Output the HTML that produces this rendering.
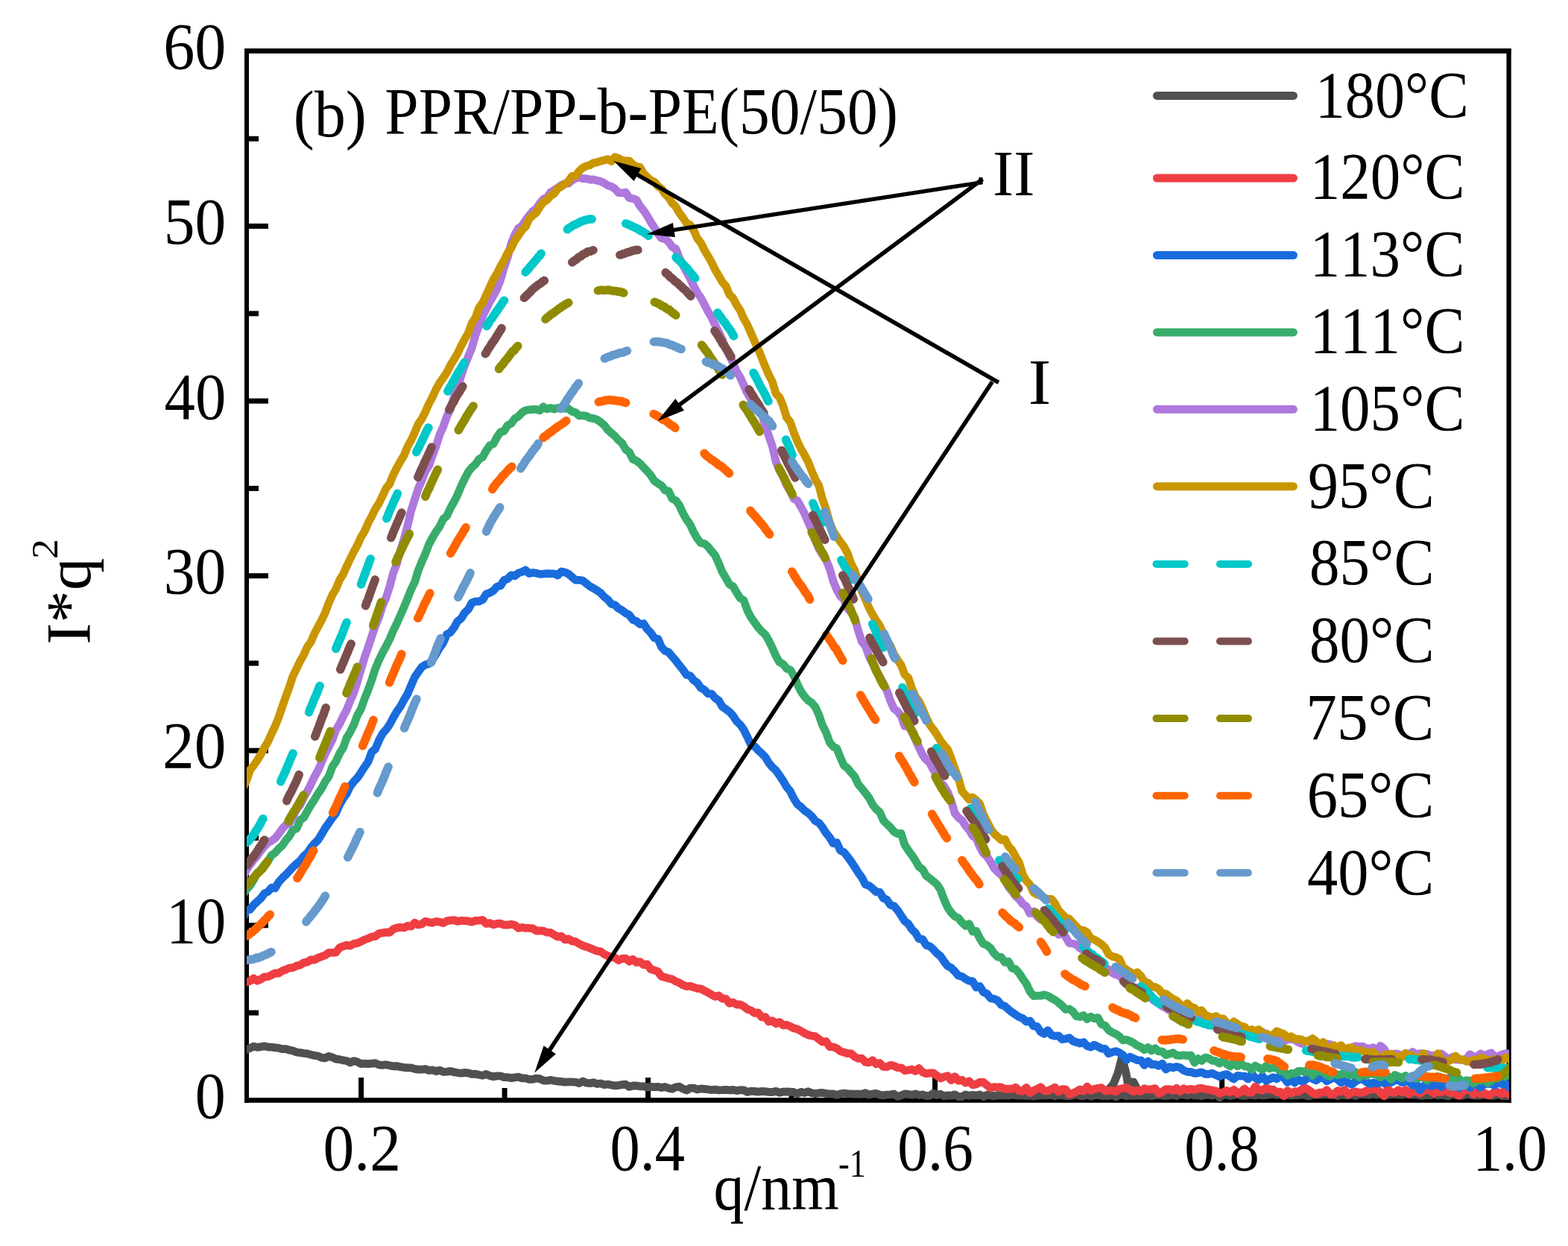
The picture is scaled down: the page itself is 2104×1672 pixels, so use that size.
<!DOCTYPE html><html><head><meta charset="utf-8"><title>SAXS I*q^2 vs q</title>
<style>html,body{margin:0;padding:0;background:#fff;}svg{display:block;}text{font-family:'Liberation Serif','Times New Roman',serif;fill:#000;font-kerning:none;font-feature-settings:"kern" 0;}</style></head><body>
<svg xmlns="http://www.w3.org/2000/svg" width="2104" height="1672" viewBox="0 0 2104 1672">
<rect width="2104" height="1672" fill="#fff"/>
<g stroke="#000" fill="none">
<line x1="331" y1="65" x2="331" y2="1479.8" stroke-width="6"/>
<line x1="2024.6" y1="65" x2="2024.6" y2="1479.8" stroke-width="6.3"/>
<line x1="328" y1="68.45" x2="2027.7" y2="68.45" stroke-width="6.7"/>
<line x1="328" y1="1476.4" x2="2027.7" y2="1476.4" stroke-width="6.7"/>
<line x1="333" y1="1241.8" x2="360" y2="1241.8" stroke-width="7"/>
<line x1="333" y1="1007.2" x2="360" y2="1007.2" stroke-width="7"/>
<line x1="333" y1="772.7" x2="360" y2="772.7" stroke-width="7"/>
<line x1="333" y1="538.1" x2="360" y2="538.1" stroke-width="7"/>
<line x1="333" y1="303.5" x2="360" y2="303.5" stroke-width="7"/>
<line x1="333" y1="1359.1" x2="347" y2="1359.1" stroke-width="7"/>
<line x1="333" y1="1124.5" x2="347" y2="1124.5" stroke-width="7"/>
<line x1="333" y1="890.0" x2="347" y2="890.0" stroke-width="7"/>
<line x1="333" y1="655.4" x2="347" y2="655.4" stroke-width="7"/>
<line x1="333" y1="420.8" x2="347" y2="420.8" stroke-width="7"/>
<line x1="333" y1="186.2" x2="347" y2="186.2" stroke-width="7"/>
<line x1="484.6" y1="1474" x2="484.6" y2="1446" stroke-width="7"/>
<line x1="869.6" y1="1474" x2="869.6" y2="1446" stroke-width="7"/>
<line x1="1254.6" y1="1474" x2="1254.6" y2="1446" stroke-width="7"/>
<line x1="1639.7" y1="1474" x2="1639.7" y2="1446" stroke-width="7"/>
<line x1="677.1" y1="1474" x2="677.1" y2="1460" stroke-width="7"/>
<line x1="1062.1" y1="1474" x2="1062.1" y2="1460" stroke-width="7"/>
<line x1="1447.2" y1="1474" x2="1447.2" y2="1460" stroke-width="7"/>
<line x1="1832.2" y1="1474" x2="1832.2" y2="1460" stroke-width="7"/>
</g>
<defs><clipPath id="pc"><rect x="331" y="60" width="1694" height="1425"/></clipPath></defs>
<g clip-path="url(#pc)">
<path d="M326.0 1409.6L330.8 1408.3L335.6 1406.5L340.4 1404.1L345.2 1405.4L350.0 1404.7L354.8 1403.8L359.6 1405.0L364.4 1405.2L369.2 1405.8L374.0 1406.4L378.8 1407.7L383.6 1407.6L388.4 1409.2L393.2 1410.0L398.0 1412.0L402.8 1412.6L407.6 1413.3L412.4 1413.8L417.2 1415.3L422.0 1416.4L426.8 1417.0L431.6 1419.3L436.4 1419.8L441.2 1417.3L446.0 1418.8L450.8 1421.1L455.6 1421.6L460.4 1422.9L465.2 1423.5L470.0 1425.9L474.8 1423.6L479.6 1424.9L484.4 1427.7L489.2 1427.1L494.0 1427.7L498.8 1427.2L503.6 1426.7L508.4 1428.9L513.2 1429.4L518.0 1428.7L522.8 1429.7L527.6 1430.8L532.4 1430.5L537.2 1431.7L542.0 1432.4L546.8 1432.9L551.6 1432.9L556.4 1434.4L561.2 1435.1L566.0 1435.1L570.8 1434.5L575.6 1436.4L580.4 1435.8L585.2 1437.5L590.0 1436.2L594.8 1438.4L599.6 1438.1L604.4 1437.4L609.2 1438.7L614.0 1439.5L618.8 1440.1L623.6 1439.4L628.4 1439.8L633.2 1441.4L638.0 1441.2L642.8 1442.3L647.6 1443.2L652.4 1441.4L657.2 1443.6L662.0 1444.8L666.8 1443.9L671.6 1443.8L676.4 1445.6L681.2 1445.6L686.0 1446.6L690.8 1445.9L695.6 1445.2L700.4 1446.8L705.2 1446.9L710.0 1448.4L714.8 1448.3L719.6 1447.0L724.4 1447.7L729.2 1450.0L734.0 1450.2L738.8 1449.3L743.6 1450.3L748.4 1451.0L753.2 1451.4L758.0 1452.1L762.8 1451.9L767.6 1451.9L772.4 1452.1L777.2 1453.6L782.0 1450.9L786.8 1453.2L791.6 1453.6L796.4 1452.6L801.2 1454.5L806.0 1453.9L810.8 1455.6L815.6 1455.0L820.4 1456.0L825.2 1456.8L830.0 1456.4L834.8 1455.5L839.6 1455.2L844.4 1458.4L849.2 1457.0L854.0 1456.8L858.8 1457.8L863.6 1457.7L868.4 1458.9L873.2 1458.5L878.0 1458.7L882.8 1458.3L887.6 1459.6L892.4 1458.5L897.2 1460.3L902.0 1461.3L906.8 1458.8L911.6 1458.1L916.4 1461.1L921.2 1463.1L926.0 1460.1L930.8 1460.1L935.6 1462.0L940.4 1460.9L945.2 1461.4L950.0 1461.8L954.8 1462.7L959.6 1462.1L964.4 1462.9L969.2 1462.7L974.0 1462.3L978.8 1462.9L983.6 1462.5L988.4 1463.6L993.2 1462.7L998.0 1462.9L1002.8 1465.4L1007.6 1464.2L1012.4 1464.4L1017.2 1465.1L1022.0 1464.4L1026.8 1464.7L1031.6 1465.4L1036.4 1465.5L1041.2 1464.3L1046.0 1466.3L1050.8 1465.1L1055.6 1464.8L1060.4 1465.1L1065.2 1465.7L1070.0 1467.7L1074.8 1465.3L1079.6 1466.6L1084.4 1464.7L1089.2 1466.7L1094.0 1467.6L1098.8 1466.7L1103.6 1466.5L1108.4 1467.4L1113.2 1467.9L1118.0 1468.0L1122.8 1469.3L1127.6 1467.8L1132.4 1467.2L1137.2 1467.7L1142.0 1467.8L1146.8 1468.1L1151.6 1468.0L1156.4 1468.3L1161.2 1466.7L1166.0 1469.1L1170.8 1467.9L1175.6 1467.4L1180.4 1469.1L1185.2 1469.8L1190.0 1469.2L1194.8 1468.9L1199.6 1468.0L1204.4 1471.5L1209.2 1469.8L1214.0 1468.0L1218.8 1468.4L1223.6 1469.3L1228.4 1467.8L1233.2 1469.5L1238.0 1468.9L1242.8 1470.5L1247.6 1470.3L1252.4 1467.1L1257.2 1469.6L1262.0 1468.2L1266.8 1470.7L1271.6 1469.9L1276.4 1470.2L1281.2 1468.8L1286.0 1471.5L1290.8 1471.7L1295.6 1468.9L1300.4 1470.3L1305.2 1469.4L1310.0 1470.0L1314.8 1468.9L1319.6 1471.7L1324.4 1469.2L1329.2 1469.8L1334.0 1470.6L1338.8 1469.6L1343.6 1470.0L1348.4 1469.7L1353.2 1470.1L1358.0 1469.2L1362.8 1469.8L1367.6 1470.1L1372.4 1470.0L1377.2 1470.3L1382.0 1470.0L1386.8 1471.0L1391.6 1470.0L1396.4 1470.2L1401.2 1469.7L1406.0 1469.9L1410.8 1469.2L1415.6 1470.8L1420.4 1469.3L1425.2 1469.7L1430.0 1470.7L1434.8 1470.7L1439.6 1470.0L1444.4 1468.5L1449.2 1470.7L1454.0 1470.6L1458.8 1469.1L1463.6 1471.0L1468.4 1469.7L1473.2 1469.3L1478.0 1470.4L1482.8 1470.1L1487.6 1470.5L1492.4 1468.8L1497.2 1471.9L1502.0 1469.7L1506.8 1468.9L1511.6 1470.8L1516.4 1469.9L1521.2 1470.5L1526.0 1469.9L1530.8 1470.1L1535.6 1470.4L1540.4 1469.5L1545.2 1470.7L1550.0 1469.7L1554.8 1469.3L1559.6 1470.1L1564.4 1470.5L1569.2 1469.8L1574.0 1469.2L1578.8 1470.6L1583.6 1468.4L1588.4 1469.0L1593.2 1470.0L1598.0 1468.7L1602.8 1469.9L1607.6 1469.8L1612.4 1470.7L1617.2 1469.0L1622.0 1469.3L1626.8 1470.1L1631.6 1467.6L1636.4 1472.6L1641.2 1469.1L1646.0 1469.1L1650.8 1470.5L1655.6 1469.7L1660.4 1468.1L1665.2 1470.2L1670.0 1470.4L1674.8 1469.2L1679.6 1469.3L1684.4 1470.0L1689.2 1468.7L1694.0 1469.9L1698.8 1469.7L1703.6 1468.9L1708.4 1468.2L1713.2 1469.3L1718.0 1468.7L1722.8 1470.3L1727.6 1469.5L1732.4 1470.1L1737.2 1469.5L1742.0 1469.6L1746.8 1468.7L1751.6 1469.9L1756.4 1470.9L1761.2 1469.0L1766.0 1468.8L1770.8 1469.2L1775.6 1468.8L1780.4 1468.6L1785.2 1469.4L1790.0 1469.0L1794.8 1470.5L1799.6 1469.2L1804.4 1469.5L1809.2 1470.1L1814.0 1468.9L1818.8 1470.5L1823.6 1468.6L1828.4 1468.5L1833.2 1468.9L1838.0 1469.1L1842.8 1467.9L1847.6 1469.2L1852.4 1467.7L1857.2 1470.5L1862.0 1469.1L1866.8 1468.6L1871.6 1468.4L1876.4 1468.9L1881.2 1469.0L1886.0 1468.3L1890.8 1468.4L1895.6 1469.1L1900.4 1468.8L1905.2 1470.1L1910.0 1470.3L1914.8 1469.3L1919.6 1469.8L1924.4 1468.2L1929.2 1470.0L1934.0 1469.4L1938.8 1469.9L1943.6 1470.9L1948.4 1467.4L1953.2 1469.7L1958.0 1468.5L1962.8 1470.1L1967.6 1468.4L1972.4 1469.2L1977.2 1469.8L1982.0 1470.2L1986.8 1469.8L1991.6 1469.1L1996.4 1469.3L2001.2 1470.6L2006.0 1469.9L2010.8 1468.4L2015.6 1470.7L2020.4 1470.4L2025.2 1470.9L2030.0 1469.8" stroke="#505050" stroke-width="10.8" fill="none" stroke-linejoin="round"/>
<path d="M1484 1466 L1494 1455 L1500 1440 L1505.5 1418.5 L1511 1440 L1513 1452 L1521 1452 L1527 1464" stroke="#505050" stroke-width="10.8" fill="none" stroke-linejoin="round"/>
<path d="M326.0 1319.7L330.8 1317.6L335.6 1316.4L340.4 1312.8L345.2 1316.2L350.0 1314.0L354.8 1310.9L359.6 1310.6L364.4 1308.4L369.2 1305.9L374.0 1306.0L378.8 1302.8L383.6 1301.1L388.4 1298.9L393.2 1298.5L398.0 1296.1L402.8 1295.0L407.6 1291.9L412.4 1290.9L417.2 1287.9L422.0 1288.0L426.8 1285.3L431.6 1283.6L436.4 1281.8L441.2 1278.3L446.0 1278.4L450.8 1278.0L455.6 1271.8L460.4 1269.8L465.2 1268.2L470.0 1269.1L474.8 1266.4L479.6 1265.6L484.4 1263.4L489.2 1261.0L494.0 1259.3L498.8 1257.1L503.6 1256.6L508.4 1252.6L513.2 1251.8L518.0 1251.0L522.8 1251.4L527.6 1246.9L532.4 1245.1L537.2 1244.4L542.0 1245.0L546.8 1242.4L551.6 1243.2L556.4 1238.3L561.2 1241.0L566.0 1240.0L570.8 1236.3L575.6 1237.6L580.4 1238.3L585.2 1236.5L590.0 1237.2L594.8 1238.7L599.6 1235.9L604.4 1235.2L609.2 1234.6L614.0 1236.4L618.8 1235.5L623.6 1235.7L628.4 1236.0L633.2 1237.2L638.0 1235.4L642.8 1235.2L647.6 1234.5L652.4 1239.5L657.2 1238.6L662.0 1240.9L666.8 1239.5L671.6 1239.1L676.4 1241.2L681.2 1241.1L686.0 1240.2L690.8 1241.4L695.6 1245.5L700.4 1244.5L705.2 1245.4L710.0 1245.4L714.8 1245.9L719.6 1249.0L724.4 1248.8L729.2 1249.1L734.0 1251.2L738.8 1251.5L743.6 1254.4L748.4 1257.2L753.2 1256.2L758.0 1260.9L762.8 1259.9L767.6 1262.9L772.4 1263.6L777.2 1266.5L782.0 1269.0L786.8 1270.5L791.6 1272.2L796.4 1274.3L801.2 1276.1L806.0 1276.9L810.8 1280.3L815.6 1282.7L820.4 1284.6L825.2 1285.2L830.0 1288.6L834.8 1286.4L839.6 1286.1L844.4 1290.2L849.2 1287.2L854.0 1291.5L858.8 1290.6L863.6 1294.6L868.4 1293.8L873.2 1300.6L878.0 1302.0L882.8 1303.7L887.6 1310.2L892.4 1311.5L897.2 1312.9L902.0 1314.0L906.8 1317.0L911.6 1318.8L916.4 1321.8L921.2 1323.6L926.0 1323.1L930.8 1324.9L935.6 1326.4L940.4 1326.8L945.2 1329.5L950.0 1331.9L954.8 1334.7L959.6 1337.4L964.4 1336.0L969.2 1340.0L974.0 1340.4L978.8 1346.2L983.6 1345.0L988.4 1348.0L993.2 1348.0L998.0 1350.4L1002.8 1354.3L1007.6 1355.8L1012.4 1359.4L1017.2 1358.9L1022.0 1364.8L1026.8 1364.6L1031.6 1370.9L1036.4 1369.7L1041.2 1373.7L1046.0 1371.4L1050.8 1375.8L1055.6 1375.2L1060.4 1377.4L1065.2 1379.8L1070.0 1380.9L1074.8 1383.7L1079.6 1386.5L1084.4 1388.7L1089.2 1390.0L1094.0 1390.7L1098.8 1394.4L1103.6 1398.1L1108.4 1397.5L1113.2 1404.5L1118.0 1404.9L1122.8 1406.7L1127.6 1410.6L1132.4 1412.1L1137.2 1413.5L1142.0 1413.7L1146.8 1418.1L1151.6 1420.3L1156.4 1420.2L1161.2 1425.1L1166.0 1425.8L1170.8 1422.9L1175.6 1427.7L1180.4 1426.4L1185.2 1431.4L1190.0 1431.7L1194.8 1429.2L1199.6 1430.3L1204.4 1432.7L1209.2 1432.8L1214.0 1436.6L1218.8 1436.0L1223.6 1435.0L1228.4 1437.3L1233.2 1433.6L1238.0 1438.7L1242.8 1440.7L1247.6 1439.9L1252.4 1440.0L1257.2 1443.4L1262.0 1447.0L1266.8 1445.0L1271.6 1443.7L1276.4 1449.6L1281.2 1444.6L1286.0 1450.1L1290.8 1449.2L1295.6 1453.1L1300.4 1450.8L1305.2 1455.9L1310.0 1454.9L1314.8 1452.1L1319.6 1452.4L1324.4 1456.3L1329.2 1460.1L1334.0 1458.5L1338.8 1459.0L1343.6 1459.0L1348.4 1461.3L1353.2 1461.1L1358.0 1461.3L1362.8 1459.2L1367.6 1463.7L1372.4 1464.3L1377.2 1459.4L1382.0 1466.6L1386.8 1463.7L1391.6 1461.4L1396.4 1458.8L1401.2 1463.9L1406.0 1463.8L1410.8 1461.5L1415.6 1459.2L1420.4 1465.0L1425.2 1461.6L1430.0 1461.9L1434.8 1468.5L1439.6 1467.1L1444.4 1464.8L1449.2 1461.9L1454.0 1464.2L1458.8 1458.2L1463.6 1463.1L1468.4 1461.3L1473.2 1460.3L1478.0 1459.7L1482.8 1464.0L1487.6 1463.2L1492.4 1463.3L1497.2 1464.8L1502.0 1461.3L1506.8 1460.5L1511.6 1459.4L1516.4 1462.4L1521.2 1464.7L1526.0 1462.8L1530.8 1464.5L1535.6 1460.7L1540.4 1462.2L1545.2 1461.6L1550.0 1460.6L1554.8 1467.3L1559.6 1465.2L1564.4 1461.7L1569.2 1461.7L1574.0 1463.3L1578.8 1460.3L1583.6 1464.5L1588.4 1460.7L1593.2 1462.7L1598.0 1461.3L1602.8 1462.6L1607.6 1460.7L1612.4 1460.2L1617.2 1461.6L1622.0 1462.2L1626.8 1463.1L1631.6 1464.0L1636.4 1467.3L1641.2 1465.7L1646.0 1463.4L1650.8 1465.6L1655.6 1462.4L1660.4 1467.3L1665.2 1465.3L1670.0 1461.0L1674.8 1465.9L1679.6 1466.1L1684.4 1458.0L1689.2 1462.5L1694.0 1463.2L1698.8 1459.8L1703.6 1461.8L1708.4 1462.1L1713.2 1465.6L1718.0 1465.1L1722.8 1470.7L1727.6 1463.6L1732.4 1467.3L1737.2 1464.7L1742.0 1465.2L1746.8 1461.8L1751.6 1460.0L1756.4 1462.8L1761.2 1466.6L1766.0 1468.6L1770.8 1466.2L1775.6 1466.0L1780.4 1462.8L1785.2 1468.6L1790.0 1468.2L1794.8 1463.6L1799.6 1464.8L1804.4 1462.5L1809.2 1468.6L1814.0 1466.0L1818.8 1464.8L1823.6 1466.1L1828.4 1466.2L1833.2 1464.0L1838.0 1461.9L1842.8 1461.9L1847.6 1460.7L1852.4 1466.3L1857.2 1470.8L1862.0 1460.8L1866.8 1465.5L1871.6 1466.3L1876.4 1462.7L1881.2 1465.8L1886.0 1462.4L1890.8 1468.4L1895.6 1463.7L1900.4 1465.5L1905.2 1467.1L1910.0 1464.1L1914.8 1460.5L1919.6 1463.9L1924.4 1467.3L1929.2 1465.1L1934.0 1465.9L1938.8 1462.4L1943.6 1465.7L1948.4 1467.2L1953.2 1465.4L1958.0 1470.4L1962.8 1464.7L1967.6 1462.4L1972.4 1460.8L1977.2 1468.4L1982.0 1465.0L1986.8 1468.0L1991.6 1466.4L1996.4 1469.6L2001.2 1468.6L2006.0 1464.1L2010.8 1465.8L2015.6 1468.1L2020.4 1461.6L2025.2 1469.1L2030.0 1468.4" stroke="#EE3E42" stroke-width="10.8" fill="none" stroke-linejoin="round"/>
<path d="M326.0 1232.1L330.8 1221.6L335.6 1220.3L340.4 1214.3L345.2 1209.8L350.0 1205.5L354.8 1198.8L359.6 1196.5L364.4 1191.2L369.2 1191.8L374.0 1183.6L378.8 1178.3L383.6 1173.8L388.4 1168.6L393.2 1163.3L398.0 1159.1L402.8 1155.0L407.6 1148.8L412.4 1144.7L417.2 1137.5L422.0 1131.7L426.8 1127.2L431.6 1119.4L436.4 1111.2L441.2 1104.3L446.0 1097.5L450.8 1091.2L455.6 1080.1L460.4 1071.7L465.2 1065.0L470.0 1055.0L474.8 1048.8L479.6 1043.7L484.4 1036.7L489.2 1029.2L494.0 1022.2L498.8 1009.2L503.6 1005.1L508.4 993.8L513.2 984.5L518.0 979.2L522.8 972.2L527.6 963.3L532.4 954.9L537.2 948.2L542.0 939.3L546.8 931.4L551.6 919.9L556.4 908.8L561.2 901.7L566.0 895.1L570.8 892.0L575.6 890.6L580.4 885.3L585.2 877.5L590.0 869.1L594.8 862.5L599.6 851.2L604.4 848.6L609.2 842.3L614.0 833.7L618.8 830.0L623.6 822.2L628.4 817.6L633.2 808.8L638.0 807.2L642.8 807.0L647.6 804.9L652.4 797.1L657.2 795.6L662.0 792.7L666.8 787.2L671.6 786.1L676.4 778.3L681.2 776.8L686.0 771.8L690.8 772.8L695.6 769.0L700.4 767.4L705.2 765.0L710.0 769.5L714.8 768.5L719.6 769.1L724.4 770.4L729.2 770.2L734.0 769.6L738.8 769.9L743.6 769.8L748.4 772.0L753.2 766.9L758.0 768.0L762.8 770.2L767.6 774.3L772.4 778.4L777.2 778.3L782.0 779.1L786.8 783.0L791.6 786.9L796.4 789.3L801.2 792.3L806.0 795.7L810.8 801.0L815.6 804.7L820.4 810.5L825.2 811.9L830.0 816.5L834.8 819.1L839.6 822.8L844.4 825.2L849.2 831.7L854.0 833.6L858.8 837.7L863.6 836.8L868.4 844.2L873.2 849.0L878.0 856.1L882.8 857.2L887.6 868.1L892.4 873.5L897.2 875.2L902.0 881.0L906.8 886.4L911.6 892.8L916.4 898.6L921.2 905.6L926.0 906.7L930.8 912.8L935.6 916.2L940.4 923.1L945.2 925.7L950.0 930.9L954.8 931.1L959.6 936.7L964.4 940.0L969.2 948.2L974.0 951.6L978.8 955.2L983.6 960.4L988.4 967.9L993.2 972.4L998.0 979.1L1002.8 988.8L1007.6 999.3L1012.4 1001.4L1017.2 1006.7L1022.0 1010.9L1026.8 1015.7L1031.6 1023.8L1036.4 1029.5L1041.2 1033.8L1046.0 1040.7L1050.8 1047.7L1055.6 1056.1L1060.4 1061.8L1065.2 1071.6L1070.0 1079.2L1074.8 1082.9L1079.6 1087.7L1084.4 1090.9L1089.2 1095.4L1094.0 1101.6L1098.8 1104.2L1103.6 1110.1L1108.4 1117.8L1113.2 1123.6L1118.0 1131.6L1122.8 1130.7L1127.6 1141.2L1132.4 1143.6L1137.2 1149.4L1142.0 1156.0L1146.8 1163.2L1151.6 1171.0L1156.4 1177.4L1161.2 1186.9L1166.0 1188.4L1170.8 1192.3L1175.6 1196.8L1180.4 1197.1L1185.2 1205.2L1190.0 1207.3L1194.8 1214.4L1199.6 1215.9L1204.4 1221.3L1209.2 1228.6L1214.0 1236.0L1218.8 1239.6L1223.6 1247.2L1228.4 1251.8L1233.2 1259.9L1238.0 1260.3L1242.8 1268.3L1247.6 1269.8L1252.4 1274.0L1257.2 1279.3L1262.0 1283.1L1266.8 1290.2L1271.6 1296.3L1276.4 1298.7L1281.2 1303.6L1286.0 1309.3L1290.8 1310.3L1295.6 1313.7L1300.4 1316.2L1305.2 1316.9L1310.0 1325.0L1314.8 1323.4L1319.6 1331.6L1324.4 1333.6L1329.2 1339.4L1334.0 1340.6L1338.8 1342.6L1343.6 1348.5L1348.4 1350.2L1353.2 1354.5L1358.0 1358.4L1362.8 1361.5L1367.6 1364.7L1372.4 1366.6L1377.2 1371.0L1382.0 1369.9L1386.8 1376.9L1391.6 1377.4L1396.4 1384.7L1401.2 1387.3L1406.0 1382.6L1410.8 1389.0L1415.6 1390.2L1420.4 1389.9L1425.2 1394.7L1430.0 1394.0L1434.8 1392.6L1439.6 1397.0L1444.4 1398.5L1449.2 1400.2L1454.0 1398.5L1458.8 1403.6L1463.6 1405.1L1468.4 1402.2L1473.2 1404.5L1478.0 1407.1L1482.8 1407.3L1487.6 1413.8L1492.4 1411.9L1497.2 1410.6L1502.0 1412.6L1506.8 1415.7L1511.6 1422.4L1516.4 1418.3L1521.2 1420.4L1526.0 1422.7L1530.8 1422.8L1535.6 1429.4L1540.4 1424.2L1545.2 1428.3L1550.0 1428.1L1554.8 1430.3L1559.6 1427.2L1564.4 1435.0L1569.2 1431.6L1574.0 1432.8L1578.8 1431.4L1583.6 1432.7L1588.4 1436.5L1593.2 1438.3L1598.0 1438.5L1602.8 1440.3L1607.6 1439.8L1612.4 1438.8L1617.2 1441.3L1622.0 1441.3L1626.8 1440.2L1631.6 1442.8L1636.4 1444.6L1641.2 1442.6L1646.0 1441.6L1650.8 1444.7L1655.6 1448.0L1660.4 1443.3L1665.2 1443.9L1670.0 1444.2L1674.8 1447.9L1679.6 1440.7L1684.4 1446.5L1689.2 1448.9L1694.0 1444.1L1698.8 1450.2L1703.6 1448.1L1708.4 1445.6L1713.2 1447.7L1718.0 1443.6L1722.8 1446.2L1727.6 1452.5L1732.4 1445.8L1737.2 1453.0L1742.0 1448.3L1746.8 1451.2L1751.6 1449.0L1756.4 1443.2L1761.2 1447.7L1766.0 1449.9L1770.8 1446.5L1775.6 1446.2L1780.4 1450.8L1785.2 1448.3L1790.0 1445.7L1794.8 1448.5L1799.6 1452.8L1804.4 1449.4L1809.2 1453.3L1814.0 1455.1L1818.8 1451.3L1823.6 1448.4L1828.4 1448.1L1833.2 1451.7L1838.0 1454.4L1842.8 1452.9L1847.6 1453.9L1852.4 1451.4L1857.2 1453.7L1862.0 1451.7L1866.8 1452.4L1871.6 1449.9L1876.4 1449.3L1881.2 1452.5L1886.0 1451.0L1890.8 1451.6L1895.6 1456.3L1900.4 1454.3L1905.2 1462.9L1910.0 1457.5L1914.8 1453.2L1919.6 1457.4L1924.4 1456.3L1929.2 1453.4L1934.0 1458.6L1938.8 1453.3L1943.6 1446.7L1948.4 1457.8L1953.2 1453.8L1958.0 1459.8L1962.8 1453.6L1967.6 1452.0L1972.4 1459.8L1977.2 1452.1L1982.0 1455.6L1986.8 1459.1L1991.6 1455.0L1996.4 1454.2L2001.2 1454.5L2006.0 1456.4L2010.8 1451.1L2015.6 1455.0L2020.4 1454.5L2025.2 1459.3L2030.0 1450.8" stroke="#1A6CDD" stroke-width="10.8" fill="none" stroke-linejoin="round"/>
<path d="M326.0 1200.4L330.8 1193.4L335.6 1188.5L340.4 1180.5L345.2 1171.3L350.0 1167.1L354.8 1160.4L359.6 1155.5L364.4 1147.7L369.2 1144.3L374.0 1138.7L378.8 1134.7L383.6 1127.5L388.4 1121.9L393.2 1113.5L398.0 1111.8L402.8 1100.3L407.6 1097.2L412.4 1088.4L417.2 1080.3L422.0 1072.9L426.8 1064.8L431.6 1057.9L436.4 1048.7L441.2 1041.9L446.0 1028.8L450.8 1021.8L455.6 1011.2L460.4 1003.5L465.2 990.1L470.0 982.2L474.8 972.6L479.6 959.7L484.4 951.3L489.2 937.8L494.0 925.7L498.8 912.5L503.6 897.4L508.4 886.0L513.2 876.1L518.0 867.3L522.8 857.9L527.6 846.3L532.4 836.6L537.2 825.9L542.0 814.9L546.8 803.4L551.6 791.1L556.4 781.4L561.2 765.6L566.0 753.7L570.8 743.1L575.6 730.4L580.4 721.4L585.2 713.3L590.0 706.5L594.8 696.3L599.6 692.3L604.4 681.9L609.2 673.5L614.0 663.9L618.8 652.3L623.6 642.3L628.4 633.2L633.2 627.2L638.0 623.0L642.8 616.2L647.6 613.5L652.4 604.7L657.2 597.7L662.0 595.8L666.8 586.8L671.6 579.7L676.4 578.5L681.2 570.7L686.0 568.2L690.8 561.6L695.6 558.8L700.4 553.7L705.2 550.7L710.0 549.8L714.8 549.4L719.6 549.4L724.4 550.9L729.2 545.8L734.0 548.9L738.8 547.4L743.6 549.0L748.4 547.5L753.2 547.3L758.0 548.1L762.8 548.4L767.6 552.2L772.4 553.5L777.2 558.0L782.0 557.5L786.8 558.4L791.6 560.8L796.4 561.5L801.2 563.2L806.0 566.5L810.8 570.6L815.6 576.9L820.4 581.1L825.2 585.2L830.0 590.7L834.8 594.7L839.6 603.1L844.4 606.8L849.2 616.2L854.0 618.3L858.8 622.0L863.6 627.1L868.4 632.2L873.2 637.7L878.0 645.3L882.8 648.6L887.6 651.6L892.4 658.0L897.2 659.1L902.0 669.1L906.8 671.5L911.6 678.0L916.4 688.7L921.2 697.2L926.0 703.8L930.8 714.1L935.6 722.5L940.4 728.7L945.2 729.5L950.0 733.4L954.8 739.7L959.6 745.1L964.4 756.0L969.2 767.6L974.0 775.7L978.8 784.2L983.6 786.7L988.4 795.0L993.2 802.6L998.0 805.5L1002.8 818.8L1007.6 828.4L1012.4 835.2L1017.2 841.7L1022.0 847.3L1026.8 851.5L1031.6 859.6L1036.4 869.4L1041.2 880.4L1046.0 888.7L1050.8 891.0L1055.6 897.3L1060.4 898.8L1065.2 906.7L1070.0 918.1L1074.8 927.8L1079.6 934.7L1084.4 940.0L1089.2 942.8L1094.0 948.8L1098.8 959.3L1103.6 973.2L1108.4 982.6L1113.2 996.0L1118.0 1001.9L1122.8 1004.3L1127.6 1016.3L1132.4 1027.1L1137.2 1030.8L1142.0 1036.4L1146.8 1042.0L1151.6 1052.3L1156.4 1058.2L1161.2 1064.1L1166.0 1070.5L1170.8 1079.4L1175.6 1085.7L1180.4 1089.6L1185.2 1100.6L1190.0 1105.8L1194.8 1110.2L1199.6 1116.0L1204.4 1118.8L1209.2 1118.5L1214.0 1133.8L1218.8 1141.0L1223.6 1147.4L1228.4 1154.9L1233.2 1163.2L1238.0 1166.7L1242.8 1175.2L1247.6 1178.7L1252.4 1182.7L1257.2 1186.7L1262.0 1194.2L1266.8 1207.1L1271.6 1217.7L1276.4 1224.8L1281.2 1229.6L1286.0 1231.9L1290.8 1237.9L1295.6 1242.4L1300.4 1239.6L1305.2 1250.1L1310.0 1249.4L1314.8 1259.3L1319.6 1266.7L1324.4 1268.3L1329.2 1272.3L1334.0 1279.4L1338.8 1284.1L1343.6 1284.5L1348.4 1291.3L1353.2 1290.3L1358.0 1299.3L1362.8 1300.5L1367.6 1306.1L1372.4 1313.3L1377.2 1320.1L1382.0 1330.4L1386.8 1336.5L1391.6 1336.2L1396.4 1336.2L1401.2 1334.8L1406.0 1336.3L1410.8 1339.4L1415.6 1341.8L1420.4 1345.5L1425.2 1349.5L1430.0 1354.5L1434.8 1354.0L1439.6 1357.2L1444.4 1363.7L1449.2 1364.4L1454.0 1362.4L1458.8 1367.4L1463.6 1364.3L1468.4 1366.8L1473.2 1365.6L1478.0 1374.5L1482.8 1376.1L1487.6 1382.3L1492.4 1385.3L1497.2 1387.5L1502.0 1390.7L1506.8 1395.8L1511.6 1395.1L1516.4 1397.2L1521.2 1399.6L1526.0 1403.0L1530.8 1404.9L1535.6 1408.7L1540.4 1405.6L1545.2 1410.0L1550.0 1406.8L1554.8 1410.9L1559.6 1410.9L1564.4 1415.7L1569.2 1414.1L1574.0 1412.7L1578.8 1416.1L1583.6 1416.5L1588.4 1415.9L1593.2 1416.8L1598.0 1416.2L1602.8 1425.9L1607.6 1420.5L1612.4 1423.4L1617.2 1419.1L1622.0 1420.1L1626.8 1423.1L1631.6 1423.9L1636.4 1427.0L1641.2 1423.3L1646.0 1427.8L1650.8 1430.9L1655.6 1425.7L1660.4 1430.8L1665.2 1426.9L1670.0 1430.8L1674.8 1431.4L1679.6 1435.5L1684.4 1430.1L1689.2 1432.8L1694.0 1435.5L1698.8 1430.5L1703.6 1434.0L1708.4 1432.3L1713.2 1433.3L1718.0 1437.3L1722.8 1437.8L1727.6 1443.1L1732.4 1440.5L1737.2 1440.7L1742.0 1437.4L1746.8 1437.4L1751.6 1438.9L1756.4 1433.1L1761.2 1443.6L1766.0 1437.9L1770.8 1437.2L1775.6 1439.1L1780.4 1442.9L1785.2 1444.2L1790.0 1440.2L1794.8 1442.6L1799.6 1441.6L1804.4 1439.3L1809.2 1442.7L1814.0 1442.5L1818.8 1438.5L1823.6 1445.8L1828.4 1438.8L1833.2 1443.8L1838.0 1440.5L1842.8 1441.3L1847.6 1441.8L1852.4 1445.8L1857.2 1440.6L1862.0 1443.7L1866.8 1448.7L1871.6 1442.6L1876.4 1444.6L1881.2 1446.7L1886.0 1443.4L1890.8 1446.5L1895.6 1443.6L1900.4 1447.6L1905.2 1446.0L1910.0 1443.4L1914.8 1450.2L1919.6 1446.2L1924.4 1445.9L1929.2 1444.3L1934.0 1445.8L1938.8 1447.2L1943.6 1448.3L1948.4 1451.2L1953.2 1444.6L1958.0 1447.7L1962.8 1452.4L1967.6 1449.6L1972.4 1450.4L1977.2 1453.9L1982.0 1450.1L1986.8 1450.2L1991.6 1448.3L1996.4 1453.1L2001.2 1450.2L2006.0 1444.0L2010.8 1446.5L2015.6 1440.0L2020.4 1444.9L2025.2 1441.6L2030.0 1436.7" stroke="#38AC6B" stroke-width="10.8" fill="none" stroke-linejoin="round"/>
<path d="M326.0 1177.4L330.8 1167.2L335.6 1160.2L340.4 1153.8L345.2 1148.4L350.0 1141.6L354.8 1135.8L359.6 1130.8L364.4 1128.3L369.2 1124.9L374.0 1118.8L378.8 1112.1L383.6 1107.1L388.4 1104.3L393.2 1095.8L398.0 1086.1L402.8 1080.1L407.6 1070.2L412.4 1061.7L417.2 1052.4L422.0 1042.3L426.8 1033.7L431.6 1022.6L436.4 1011.5L441.2 1002.3L446.0 992.6L450.8 979.5L455.6 971.6L460.4 961.3L465.2 952.6L470.0 940.4L474.8 929.3L479.6 914.4L484.4 898.2L489.2 882.1L494.0 868.6L498.8 854.0L503.6 840.1L508.4 828.6L513.2 813.2L518.0 802.2L522.8 787.3L527.6 769.1L532.4 756.7L537.2 738.9L542.0 723.6L546.8 706.0L551.6 685.4L556.4 670.5L561.2 655.4L566.0 644.9L570.8 632.2L575.6 625.0L580.4 611.3L585.2 598.5L590.0 583.1L594.8 572.4L599.6 558.9L604.4 548.9L609.2 532.9L614.0 518.5L618.8 504.6L623.6 490.1L628.4 478.4L633.2 466.7L638.0 449.9L642.8 436.6L647.6 424.0L652.4 414.9L657.2 405.1L662.0 397.0L666.8 387.9L671.6 375.8L676.4 359.3L681.2 345.1L686.0 326.7L690.8 314.9L695.6 306.2L700.4 302.9L705.2 295.6L710.0 289.3L714.8 283.5L719.6 280.1L724.4 272.7L729.2 267.2L734.0 265.0L738.8 258.0L743.6 255.2L748.4 252.2L753.2 248.4L758.0 246.4L762.8 246.2L767.6 241.8L772.4 239.4L777.2 237.7L782.0 239.7L786.8 239.6L791.6 241.0L796.4 240.9L801.2 242.2L806.0 243.4L810.8 245.7L815.6 248.8L820.4 250.3L825.2 253.4L830.0 258.6L834.8 258.9L839.6 258.2L844.4 265.6L849.2 266.3L854.0 268.2L858.8 276.5L863.6 282.4L868.4 289.6L873.2 298.0L878.0 305.3L882.8 313.5L887.6 319.7L892.4 320.6L897.2 324.7L902.0 331.4L906.8 333.8L911.6 346.2L916.4 356.0L921.2 364.7L926.0 373.8L930.8 383.9L935.6 392.9L940.4 399.4L945.2 408.5L950.0 417.9L954.8 425.9L959.6 436.1L964.4 445.4L969.2 455.7L974.0 468.5L978.8 477.3L983.6 487.2L988.4 498.6L993.2 506.1L998.0 516.8L1002.8 527.7L1007.6 535.8L1012.4 544.7L1017.2 549.2L1022.0 555.0L1026.8 571.6L1031.6 584.9L1036.4 599.1L1041.2 619.7L1046.0 631.5L1050.8 639.9L1055.6 651.5L1060.4 658.9L1065.2 669.2L1070.0 671.9L1074.8 680.3L1079.6 689.3L1084.4 700.2L1089.2 711.4L1094.0 725.0L1098.8 736.3L1103.6 744.2L1108.4 751.1L1113.2 762.8L1118.0 779.6L1122.8 791.1L1127.6 800.1L1132.4 804.3L1137.2 816.3L1142.0 821.5L1146.8 828.7L1151.6 846.1L1156.4 861.1L1161.2 866.6L1166.0 880.5L1170.8 890.2L1175.6 900.8L1180.4 908.0L1185.2 916.8L1190.0 926.8L1194.8 940.6L1199.6 951.0L1204.4 954.5L1209.2 961.0L1214.0 974.3L1218.8 974.1L1223.6 982.4L1228.4 992.5L1233.2 1003.1L1238.0 1013.0L1242.8 1019.4L1247.6 1023.9L1252.4 1033.1L1257.2 1039.4L1262.0 1050.1L1266.8 1055.1L1271.6 1062.8L1276.4 1074.9L1281.2 1091.3L1286.0 1097.1L1290.8 1100.7L1295.6 1108.2L1300.4 1113.6L1305.2 1121.8L1310.0 1124.9L1314.8 1136.6L1319.6 1145.1L1324.4 1149.5L1329.2 1156.4L1334.0 1165.1L1338.8 1169.9L1343.6 1174.1L1348.4 1180.5L1353.2 1190.2L1358.0 1195.6L1362.8 1202.7L1367.6 1206.7L1372.4 1212.9L1377.2 1216.4L1382.0 1225.7L1386.8 1223.0L1391.6 1229.8L1396.4 1234.0L1401.2 1235.0L1406.0 1242.2L1410.8 1239.4L1415.6 1248.4L1420.4 1254.1L1425.2 1251.0L1430.0 1257.3L1434.8 1265.6L1439.6 1266.1L1444.4 1267.6L1449.2 1272.3L1454.0 1275.1L1458.8 1281.1L1463.6 1283.7L1468.4 1285.3L1473.2 1287.8L1478.0 1292.6L1482.8 1299.3L1487.6 1300.9L1492.4 1305.5L1497.2 1307.8L1502.0 1309.2L1506.8 1314.3L1511.6 1321.0L1516.4 1323.3L1521.2 1324.3L1526.0 1325.9L1530.8 1332.8L1535.6 1334.7L1540.4 1337.4L1545.2 1340.1L1550.0 1344.0L1554.8 1346.5L1559.6 1350.4L1564.4 1352.6L1569.2 1355.8L1574.0 1356.7L1578.8 1356.2L1583.6 1358.8L1588.4 1362.1L1593.2 1362.1L1598.0 1365.9L1602.8 1369.2L1607.6 1366.2L1612.4 1365.6L1617.2 1374.3L1622.0 1373.0L1626.8 1376.2L1631.6 1372.7L1636.4 1381.5L1641.2 1380.4L1646.0 1379.6L1650.8 1380.3L1655.6 1382.7L1660.4 1383.2L1665.2 1384.0L1670.0 1383.0L1674.8 1389.9L1679.6 1387.7L1684.4 1389.0L1689.2 1390.0L1694.0 1384.7L1698.8 1392.8L1703.6 1391.5L1708.4 1392.4L1713.2 1394.1L1718.0 1392.2L1722.8 1397.5L1727.6 1394.3L1732.4 1394.5L1737.2 1395.2L1742.0 1398.5L1746.8 1400.6L1751.6 1397.8L1756.4 1396.0L1761.2 1403.2L1766.0 1398.3L1770.8 1404.7L1775.6 1402.0L1780.4 1400.8L1785.2 1401.5L1790.0 1404.9L1794.8 1406.6L1799.6 1404.2L1804.4 1407.8L1809.2 1411.3L1814.0 1405.7L1818.8 1403.7L1823.6 1404.5L1828.4 1404.1L1833.2 1406.6L1838.0 1406.9L1842.8 1405.8L1847.6 1411.4L1852.4 1403.3L1857.2 1407.4L1862.0 1417.0L1866.8 1414.9L1871.6 1414.0L1876.4 1414.3L1881.2 1418.4L1886.0 1415.5L1890.8 1414.7L1895.6 1411.5L1900.4 1415.1L1905.2 1413.7L1910.0 1414.1L1914.8 1414.5L1919.6 1416.7L1924.4 1416.2L1929.2 1420.0L1934.0 1414.0L1938.8 1417.5L1943.6 1423.6L1948.4 1418.5L1953.2 1422.0L1958.0 1422.0L1962.8 1422.6L1967.6 1421.0L1972.4 1414.8L1977.2 1418.0L1982.0 1417.6L1986.8 1414.0L1991.6 1417.1L1996.4 1414.5L2001.2 1413.0L2006.0 1418.3L2010.8 1417.2L2015.6 1414.9L2020.4 1413.6L2025.2 1414.3L2030.0 1414.2" stroke="#AE78DC" stroke-width="10.8" fill="none" stroke-linejoin="round"/>
<path d="M326.0 1056.8L330.8 1047.6L335.6 1033.2L340.4 1027.3L345.2 1020.3L350.0 1012.4L354.8 1003.1L359.6 995.3L364.4 984.4L369.2 974.4L374.0 962.5L378.8 948.3L383.6 934.5L388.4 921.4L393.2 906.7L398.0 897.3L402.8 887.1L407.6 878.7L412.4 868.0L417.2 861.4L422.0 850.0L426.8 840.9L431.6 832.1L436.4 822.0L441.2 809.1L446.0 798.3L450.8 790.3L455.6 778.4L460.4 770.8L465.2 759.9L470.0 750.0L474.8 740.2L479.6 731.5L484.4 720.8L489.2 713.0L494.0 701.8L498.8 692.9L503.6 683.1L508.4 675.5L513.2 665.6L518.0 655.2L522.8 649.5L527.6 637.2L532.4 628.0L537.2 619.2L542.0 611.4L546.8 599.4L551.6 590.9L556.4 580.5L561.2 568.8L566.0 562.1L570.8 552.7L575.6 541.7L580.4 532.8L585.2 522.1L590.0 513.6L594.8 506.8L599.6 499.8L604.4 490.0L609.2 482.3L614.0 474.3L618.8 464.0L623.6 455.2L628.4 446.8L633.2 433.5L638.0 426.3L642.8 412.9L647.6 406.2L652.4 396.1L657.2 385.4L662.0 375.1L666.8 367.1L671.6 357.5L676.4 349.3L681.2 339.3L686.0 333.0L690.8 322.8L695.6 316.1L700.4 308.7L705.2 304.1L710.0 293.8L714.8 289.1L719.6 285.5L724.4 277.4L729.2 271.3L734.0 268.4L738.8 262.8L743.6 259.8L748.4 253.0L753.2 250.3L758.0 246.9L762.8 243.4L767.6 236.4L772.4 236.3L777.2 229.4L782.0 225.1L786.8 222.8L791.6 221.6L796.4 218.6L801.2 217.7L806.0 216.3L810.8 215.0L815.6 213.6L820.4 216.5L825.2 210.8L830.0 212.3L834.8 215.3L839.6 215.7L844.4 215.8L849.2 220.8L854.0 223.7L858.8 224.4L863.6 233.0L868.4 237.6L873.2 241.9L878.0 243.9L882.8 249.8L887.6 253.1L892.4 260.6L897.2 264.9L902.0 272.5L906.8 277.4L911.6 285.9L916.4 292.1L921.2 299.4L926.0 301.9L930.8 308.8L935.6 319.8L940.4 325.9L945.2 335.5L950.0 343.6L954.8 351.9L959.6 361.9L964.4 370.1L969.2 378.4L974.0 383.8L978.8 395.3L983.6 399.9L988.4 409.2L993.2 416.5L998.0 427.5L1002.8 435.9L1007.6 446.8L1012.4 457.9L1017.2 468.0L1022.0 479.7L1026.8 491.9L1031.6 503.1L1036.4 512.3L1041.2 528.4L1046.0 533.1L1050.8 544.8L1055.6 560.3L1060.4 566.3L1065.2 580.6L1070.0 592.3L1074.8 602.2L1079.6 610.4L1084.4 619.7L1089.2 632.0L1094.0 643.4L1098.8 651.5L1103.6 669.8L1108.4 683.4L1113.2 701.0L1118.0 712.6L1122.8 720.2L1127.6 727.0L1132.4 733.2L1137.2 742.4L1142.0 756.0L1146.8 765.3L1151.6 779.5L1156.4 793.5L1161.2 803.9L1166.0 815.5L1170.8 824.5L1175.6 832.6L1180.4 839.6L1185.2 849.8L1190.0 859.6L1194.8 866.6L1199.6 877.9L1204.4 885.6L1209.2 892.6L1214.0 905.3L1218.8 909.4L1223.6 923.6L1228.4 934.9L1233.2 940.9L1238.0 951.0L1242.8 962.5L1247.6 972.5L1252.4 978.9L1257.2 985.9L1262.0 994.1L1266.8 1000.0L1271.6 1005.5L1276.4 1017.8L1281.2 1031.2L1286.0 1044.1L1290.8 1061.6L1295.6 1066.8L1300.4 1072.9L1305.2 1069.9L1310.0 1073.8L1314.8 1078.8L1319.6 1092.9L1324.4 1102.4L1329.2 1111.7L1334.0 1118.7L1338.8 1122.8L1343.6 1127.2L1348.4 1126.3L1353.2 1135.6L1358.0 1140.7L1362.8 1149.6L1367.6 1157.6L1372.4 1173.6L1377.2 1181.9L1382.0 1187.2L1386.8 1197.6L1391.6 1200.5L1396.4 1201.3L1401.2 1205.1L1406.0 1206.4L1410.8 1206.3L1415.6 1212.2L1420.4 1221.5L1425.2 1226.5L1430.0 1231.6L1434.8 1233.0L1439.6 1238.3L1444.4 1243.4L1449.2 1248.2L1454.0 1248.3L1458.8 1251.2L1463.6 1259.5L1468.4 1260.9L1473.2 1263.8L1478.0 1267.1L1482.8 1271.4L1487.6 1280.6L1492.4 1283.4L1497.2 1284.6L1502.0 1286.9L1506.8 1297.5L1511.6 1301.3L1516.4 1304.4L1521.2 1307.4L1526.0 1304.8L1530.8 1309.7L1535.6 1317.4L1540.4 1318.7L1545.2 1323.2L1550.0 1324.5L1554.8 1327.2L1559.6 1332.9L1564.4 1333.5L1569.2 1337.2L1574.0 1340.4L1578.8 1342.9L1583.6 1347.6L1588.4 1350.5L1593.2 1346.4L1598.0 1351.2L1602.8 1352.5L1607.6 1358.0L1612.4 1355.7L1617.2 1362.1L1622.0 1363.9L1626.8 1365.5L1631.6 1363.6L1636.4 1367.3L1641.2 1366.9L1646.0 1372.3L1650.8 1375.3L1655.6 1370.9L1660.4 1374.1L1665.2 1377.3L1670.0 1377.8L1674.8 1384.2L1679.6 1381.5L1684.4 1383.7L1689.2 1381.5L1694.0 1389.3L1698.8 1386.9L1703.6 1389.3L1708.4 1388.5L1713.2 1383.7L1718.0 1385.8L1722.8 1387.3L1727.6 1392.5L1732.4 1390.7L1737.2 1393.9L1742.0 1394.4L1746.8 1395.2L1751.6 1398.0L1756.4 1397.1L1761.2 1393.5L1766.0 1397.1L1770.8 1404.4L1775.6 1398.4L1780.4 1405.9L1785.2 1407.7L1790.0 1402.8L1794.8 1406.3L1799.6 1402.6L1804.4 1409.4L1809.2 1406.1L1814.0 1405.6L1818.8 1408.9L1823.6 1409.5L1828.4 1410.0L1833.2 1412.8L1838.0 1412.6L1842.8 1411.9L1847.6 1417.0L1852.4 1421.7L1857.2 1415.9L1862.0 1414.3L1866.8 1414.1L1871.6 1419.0L1876.4 1417.2L1881.2 1418.4L1886.0 1413.2L1890.8 1416.1L1895.6 1416.4L1900.4 1422.6L1905.2 1419.6L1910.0 1413.6L1914.8 1422.3L1919.6 1424.4L1924.4 1425.2L1929.2 1413.7L1934.0 1422.3L1938.8 1424.4L1943.6 1424.0L1948.4 1421.7L1953.2 1417.2L1958.0 1421.3L1962.8 1421.6L1967.6 1424.3L1972.4 1424.5L1977.2 1421.9L1982.0 1425.1L1986.8 1419.5L1991.6 1420.5L1996.4 1422.3L2001.2 1424.0L2006.0 1421.2L2010.8 1425.7L2015.6 1423.1L2020.4 1418.8L2025.2 1421.7L2030.0 1418.6" stroke="#C99600" stroke-width="10.8" fill="none" stroke-linejoin="round"/>
<path d="M326.0 1135.5L328.0 1134.0L330.0 1132.1L332.0 1129.9L334.0 1127.8L336.0 1125.3L338.0 1123.0L340.0 1120.7L342.0 1117.2L344.0 1114.1L346.0 1111.2L348.0 1107.8L350.0 1104.2L352.0 1100.3L354.0 1096.9L356.0 1093.2L358.0 1088.7L360.0 1084.9L362.0 1080.4L364.0 1076.4L366.0 1072.0L368.0 1068.1L370.0 1063.5L372.0 1059.6L374.0 1055.1L376.0 1050.6L378.0 1045.4L380.0 1041.5L382.0 1037.1L384.0 1032.6L386.0 1027.5L388.0 1023.1L390.0 1018.2L392.0 1013.4L394.0 1009.1L396.0 1003.5L398.0 998.6L400.0 993.8L402.0 988.1L404.0 983.0L406.0 977.8L408.0 972.6L410.0 967.0L412.0 962.2L414.0 957.5L416.0 951.6L418.0 947.4L420.0 942.3L422.0 937.2L424.0 933.2L426.0 928.1L428.0 922.8L430.0 918.6L432.0 914.1L434.0 909.2L436.0 904.8L438.0 900.0L440.0 895.6L442.0 891.3L444.0 886.0L446.0 881.6L448.0 876.8L450.0 872.3L452.0 867.2L454.0 862.6L456.0 857.9L458.0 853.4L460.0 848.6L462.0 842.9L464.0 838.0L466.0 833.4L468.0 827.5L470.0 822.7L472.0 817.6L474.0 812.7L476.0 807.2L478.0 801.5L480.0 796.1L482.0 790.8L484.0 785.9L486.0 779.9L488.0 774.6L490.0 769.4L492.0 763.9L494.0 758.5L496.0 752.9L498.0 748.0L500.0 742.7L502.0 738.0L504.0 732.7L506.0 727.4L508.0 722.6L510.0 717.3L512.0 712.7L514.0 707.5L516.0 702.8L518.0 697.4L520.0 693.1L522.0 687.8L524.0 682.9L526.0 678.8L528.0 673.9L530.0 669.6L532.0 665.7L534.0 660.2L536.0 655.8L538.0 651.5L540.0 647.2L542.0 642.5L544.0 638.2L546.0 634.1L548.0 629.7L550.0 624.9L552.0 620.9L554.0 616.7L556.0 612.2L558.0 608.4L560.0 603.9L562.0 600.3L564.0 596.0L566.0 591.9L568.0 587.7L570.0 583.8L572.0 579.2L574.0 575.5L576.0 572.0L578.0 567.4L580.0 564.4L582.0 559.8L584.0 556.7L586.0 552.4L588.0 549.1L590.0 545.1L592.0 540.9L594.0 538.0L596.0 534.4L598.0 530.3L600.0 526.6L602.0 523.0L604.0 519.1L606.0 516.2L608.0 512.1L610.0 508.7L612.0 505.0L614.0 501.6L616.0 497.9L618.0 495.2L620.0 491.4L622.0 488.3L624.0 484.6L626.0 481.0L628.0 477.8L630.0 474.4L632.0 471.3L634.0 467.9L636.0 464.6L638.0 461.1L640.0 458.0L642.0 455.6L644.0 451.7L646.0 448.4L648.0 445.7L650.0 442.9L652.0 439.0L654.0 436.3L656.0 433.1L658.0 429.7L660.0 427.5L662.0 424.3L664.0 421.3L666.0 418.2L668.0 415.6L670.0 412.4L672.0 409.7L674.0 406.5L676.0 403.7L678.0 401.6L680.0 398.3L682.0 395.8L684.0 392.9L686.0 390.1L688.0 387.4L690.0 385.1L692.0 382.1L694.0 379.6L696.0 377.0L698.0 374.8L700.0 372.1L702.0 369.4L704.0 366.7L706.0 363.9L708.0 362.2L710.0 359.7L712.0 357.0L714.0 354.8L716.0 352.5L718.0 350.1L720.0 347.8L722.0 345.1L724.0 343.5L726.0 340.4L728.0 338.8L730.0 336.5L732.0 334.5L734.0 332.7L736.0 330.5L738.0 327.7L740.0 325.6L742.0 324.4L744.0 322.0L746.0 320.4L748.0 318.9L750.0 316.4L752.0 314.5L754.0 313.6L756.0 311.9L758.0 310.3L760.0 308.9L762.0 307.2L764.0 305.6L766.0 304.7L768.0 303.2L770.0 301.9L772.0 301.4L774.0 300.2L776.0 299.3L778.0 298.0L780.0 297.3L782.0 296.4L784.0 295.7L786.0 295.4L788.0 294.6L790.0 294.4L792.0 294.0L794.0 294.1L796.0 292.8L798.0 293.3L800.0 292.8L802.0 292.7L804.0 292.2L806.0 292.5L808.0 292.9L810.0 292.7L812.0 292.9L814.0 293.0L816.0 293.7L818.0 293.7L820.0 293.4L822.0 294.2L824.0 294.3L826.0 294.4L828.0 295.7L830.0 296.9L832.0 297.1L834.0 297.4L836.0 298.2L838.0 299.5L840.0 300.0L842.0 300.8L844.0 301.6L846.0 302.5L848.0 303.7L850.0 304.5L852.0 305.4L854.0 306.1L856.0 307.6L858.0 308.3L860.0 310.0L862.0 310.5L864.0 312.0L866.0 313.3L868.0 314.1L870.0 316.3L872.0 317.6L874.0 318.4L876.0 320.1L878.0 321.4L880.0 322.0L882.0 324.3L884.0 325.7L886.0 327.3L888.0 328.5L890.0 330.4L892.0 332.0L894.0 334.1L896.0 335.5L898.0 337.1L900.0 339.3L902.0 340.5L904.0 342.3L906.0 343.7L908.0 346.6L910.0 348.3L912.0 350.2L914.0 352.1L916.0 353.9L918.0 356.0L920.0 358.0L922.0 360.2L924.0 362.6L926.0 365.4L928.0 367.5L930.0 369.9L932.0 372.4L934.0 375.1L936.0 378.6L938.0 381.2L940.0 384.0L942.0 387.0L944.0 389.9L946.0 393.4L948.0 396.9L950.0 399.7L952.0 403.0L954.0 406.1L956.0 409.4L958.0 411.9L960.0 415.3L962.0 418.1L964.0 421.4L966.0 423.7L968.0 426.9L970.0 429.9L972.0 432.1L974.0 434.7L976.0 437.8L978.0 440.5L980.0 443.1L982.0 446.5L984.0 450.1L986.0 452.6L988.0 455.9L990.0 459.1L992.0 463.1L994.0 466.4L996.0 470.2L998.0 474.8L1000.0 478.1L1002.0 482.6L1004.0 486.8L1006.0 490.4L1008.0 494.4L1010.0 498.7L1012.0 502.0L1014.0 505.7L1016.0 509.3L1018.0 513.5L1020.0 517.7L1022.0 521.3L1024.0 524.5L1026.0 528.4L1028.0 532.4L1030.0 536.5L1032.0 540.4L1034.0 544.6L1036.0 548.8L1038.0 552.8L1040.0 557.2L1042.0 561.6L1044.0 565.9L1046.0 570.5L1048.0 575.5L1050.0 579.6L1052.0 584.1L1054.0 588.2L1056.0 593.5L1058.0 597.5L1060.0 602.4L1062.0 607.8L1064.0 612.5L1066.0 617.1L1068.0 621.4L1070.0 626.5L1072.0 631.2L1074.0 636.4L1076.0 641.6L1078.0 645.8L1080.0 650.2L1082.0 654.8L1084.0 659.8L1086.0 664.4L1088.0 668.7L1090.0 673.6L1092.0 677.8L1094.0 682.9L1096.0 687.3L1098.0 691.7L1100.0 695.5L1102.0 700.0L1104.0 703.9L1106.0 707.9L1108.0 711.9L1110.0 715.6L1112.0 719.4L1114.0 724.0L1116.0 727.5L1118.0 731.4L1120.0 735.4L1122.0 738.3L1124.0 742.2L1126.0 746.2L1128.0 750.0L1130.0 753.4L1132.0 757.5L1134.0 761.0L1136.0 764.3L1138.0 768.1L1140.0 772.4L1142.0 776.2L1144.0 779.4L1146.0 784.3L1148.0 788.1L1150.0 792.4L1152.0 796.1L1154.0 800.4L1156.0 804.4L1158.0 809.8L1160.0 813.4L1162.0 818.3L1164.0 822.1L1166.0 826.8L1168.0 830.7L1170.0 835.5L1172.0 840.4L1174.0 844.2L1176.0 849.4L1178.0 853.6L1180.0 857.6L1182.0 862.2L1184.0 866.6L1186.0 871.0L1188.0 875.2L1190.0 879.4L1192.0 883.8L1194.0 887.8L1196.0 891.9L1198.0 896.4L1200.0 900.9L1202.0 904.2L1204.0 908.8L1206.0 912.6L1208.0 916.5L1210.0 921.0L1212.0 924.5L1214.0 929.0L1216.0 932.2L1218.0 936.3L1220.0 939.9L1222.0 943.5L1224.0 947.6L1226.0 951.1L1228.0 954.9L1230.0 958.3L1232.0 961.6L1234.0 965.4L1236.0 969.0L1238.0 972.8L1240.0 975.7L1242.0 979.4L1244.0 982.3L1246.0 986.5L1248.0 989.4L1250.0 992.6L1252.0 996.5L1254.0 1000.2L1256.0 1002.8L1258.0 1006.3L1260.0 1009.8L1262.0 1013.0L1264.0 1016.9L1266.0 1019.9L1268.0 1023.3L1270.0 1027.1L1272.0 1030.1L1274.0 1033.9L1276.0 1036.9L1278.0 1040.3L1280.0 1043.6L1282.0 1048.2L1284.0 1051.1L1286.0 1054.8L1288.0 1058.3L1290.0 1061.9L1292.0 1065.5L1294.0 1069.7L1296.0 1072.5L1298.0 1076.1L1300.0 1080.0L1302.0 1083.7L1304.0 1088.2L1306.0 1092.1L1308.0 1095.4L1310.0 1099.2L1312.0 1103.4L1314.0 1107.8L1316.0 1110.4L1318.0 1115.2L1320.0 1118.6L1322.0 1122.9L1324.0 1126.0L1326.0 1129.9L1328.0 1133.1L1330.0 1136.8L1332.0 1140.9L1334.0 1144.1L1336.0 1146.9L1338.0 1149.9L1340.0 1152.6L1342.0 1155.9L1344.0 1158.8L1346.0 1161.4L1348.0 1163.8L1350.0 1165.8L1352.0 1168.2L1354.0 1170.2L1356.0 1172.4L1358.0 1174.2L1360.0 1175.1L1362.0 1176.4L1364.0 1178.0L1366.0 1179.3L1368.0 1180.7L1370.0 1182.5L1372.0 1183.8L1374.0 1185.9L1376.0 1187.4L1378.0 1189.3L1380.0 1191.0L1382.0 1192.7L1384.0 1194.5L1386.0 1196.7L1388.0 1198.6L1390.0 1200.8L1392.0 1202.8L1394.0 1204.5L1396.0 1207.1L1398.0 1208.9L1400.0 1211.3L1402.0 1213.6L1404.0 1215.3L1406.0 1218.2L1408.0 1220.5L1410.0 1222.6L1412.0 1224.9L1414.0 1227.2L1416.0 1229.3L1418.0 1231.8L1420.0 1234.0L1422.0 1236.5L1424.0 1238.4L1426.0 1241.2L1428.0 1243.4L1430.0 1245.6L1432.0 1247.7L1434.0 1250.3L1436.0 1251.8L1438.0 1254.6L1440.0 1256.7L1442.0 1258.9L1444.0 1261.0L1446.0 1262.8L1448.0 1264.9L1450.0 1267.2L1452.0 1269.1L1454.0 1270.9L1456.0 1272.2L1458.0 1274.7L1460.0 1276.6L1462.0 1278.3L1464.0 1279.8L1466.0 1280.9L1468.0 1283.3L1470.0 1284.5L1472.0 1285.3L1474.0 1287.6L1476.0 1288.5L1478.0 1290.0L1480.0 1291.5L1482.0 1293.4L1484.0 1294.1L1486.0 1295.5L1488.0 1297.2L1490.0 1298.3L1492.0 1298.8L1494.0 1299.9L1496.0 1300.6L1498.0 1301.9L1500.0 1303.3L1502.0 1304.3L1504.0 1305.3L1506.0 1306.6L1508.0 1307.2L1510.0 1308.5L1512.0 1309.9L1514.0 1311.0L1516.0 1312.4L1518.0 1313.5L1520.0 1314.6L1522.0 1316.2L1524.0 1317.2L1526.0 1318.6L1528.0 1320.9L1530.0 1322.4L1532.0 1324.3L1534.0 1325.6L1536.0 1327.9L1538.0 1329.8L1540.0 1331.7L1542.0 1333.3L1544.0 1335.9L1546.0 1338.3L1548.0 1340.1L1550.0 1341.7L1552.0 1343.8L1554.0 1345.8L1556.0 1346.5L1558.0 1349.0L1560.0 1350.8L1562.0 1352.3L1564.0 1354.0L1566.0 1355.1L1568.0 1356.1L1570.0 1357.3L1572.0 1358.5L1574.0 1359.1L1576.0 1360.3L1578.0 1361.5L1580.0 1362.6L1582.0 1362.8L1584.0 1363.6L1586.0 1364.5L1588.0 1365.5L1590.0 1365.8L1592.0 1366.9L1594.0 1366.8L1596.0 1367.6L1598.0 1368.2L1600.0 1369.1L1602.0 1369.8L1604.0 1369.6L1606.0 1370.3L1608.0 1371.3L1610.0 1371.6L1612.0 1371.9L1614.0 1373.2L1616.0 1373.7L1618.0 1374.2L1620.0 1374.5L1622.0 1375.6L1624.0 1375.8L1626.0 1376.7L1628.0 1376.7L1630.0 1377.3L1632.0 1378.2L1634.0 1378.5L1636.0 1379.5L1638.0 1379.9L1640.0 1380.1L1642.0 1381.0L1644.0 1381.4L1646.0 1382.4L1648.0 1382.5L1650.0 1383.1L1652.0 1384.2L1654.0 1385.0L1656.0 1385.5L1658.0 1385.5L1660.0 1386.1L1662.0 1387.0L1664.0 1387.1L1666.0 1387.4L1668.0 1388.3L1670.0 1388.9L1672.0 1389.1L1674.0 1389.4L1676.0 1390.0L1678.0 1391.2L1680.0 1391.3L1682.0 1392.0L1684.0 1392.7L1686.0 1393.3L1688.0 1393.6L1690.0 1394.4L1692.0 1394.5L1694.0 1395.2L1696.0 1395.5L1698.0 1396.7L1700.0 1396.9L1702.0 1397.2L1704.0 1397.9L1706.0 1398.4L1708.0 1399.2L1710.0 1399.0L1712.0 1399.7L1714.0 1400.4L1716.0 1401.8L1718.0 1401.9L1720.0 1402.0L1722.0 1402.8L1724.0 1403.7L1726.0 1403.5L1728.0 1403.9L1730.0 1404.9L1732.0 1405.1L1734.0 1405.7L1736.0 1405.8L1738.0 1407.0L1740.0 1407.4L1742.0 1407.5L1744.0 1407.9L1746.0 1407.6L1748.0 1408.8L1750.0 1409.0L1752.0 1409.6L1754.0 1410.1L1756.0 1410.2L1758.0 1410.2L1760.0 1411.2L1762.0 1411.2L1764.0 1411.7L1766.0 1412.0L1768.0 1412.4L1770.0 1412.2L1772.0 1413.6L1774.0 1413.6L1776.0 1414.2L1778.0 1414.8L1780.0 1414.5L1782.0 1414.3L1784.0 1414.9L1786.0 1415.0L1788.0 1415.5L1790.0 1416.0L1792.0 1415.6L1794.0 1416.5L1796.0 1416.2L1798.0 1417.0L1800.0 1417.1L1802.0 1417.2L1804.0 1417.5L1806.0 1417.5L1808.0 1417.6L1810.0 1417.5L1812.0 1418.1L1814.0 1418.8L1816.0 1419.0L1818.0 1418.9L1820.0 1418.8L1822.0 1418.5L1824.0 1419.2L1826.0 1418.8L1828.0 1418.9L1830.0 1418.9L1832.0 1419.0L1834.0 1418.9L1836.0 1419.1L1838.0 1418.8L1840.0 1419.1L1842.0 1419.9L1844.0 1419.2L1846.0 1419.2L1848.0 1419.5L1850.0 1419.6L1852.0 1419.1L1854.0 1419.4L1856.0 1419.8L1858.0 1419.6L1860.0 1419.6L1862.0 1420.1L1864.0 1419.5L1866.0 1419.8L1868.0 1419.7L1870.0 1420.4L1872.0 1419.4L1874.0 1419.9L1876.0 1420.1L1878.0 1420.6L1880.0 1420.7L1882.0 1421.0L1884.0 1420.3L1886.0 1421.1L1888.0 1421.0L1890.0 1421.0L1892.0 1421.6L1894.0 1421.3L1896.0 1421.2L1898.0 1421.9L1900.0 1421.7L1902.0 1422.2L1904.0 1422.7L1906.0 1422.9L1908.0 1423.5L1910.0 1423.2L1912.0 1423.0L1914.0 1423.5L1916.0 1423.7L1918.0 1423.8L1920.0 1424.5L1922.0 1424.5L1924.0 1424.3L1926.0 1425.3L1928.0 1425.4L1930.0 1425.7L1932.0 1425.9L1934.0 1426.3L1936.0 1426.4L1938.0 1427.0L1940.0 1427.0L1942.0 1427.3L1944.0 1427.5L1946.0 1427.2L1948.0 1427.8L1950.0 1428.1L1952.0 1428.5L1954.0 1428.2L1956.0 1429.4L1958.0 1429.1L1960.0 1429.0L1962.0 1429.1L1964.0 1429.7L1966.0 1430.0L1968.0 1430.0L1970.0 1430.5L1972.0 1430.5L1974.0 1431.0L1976.0 1430.9L1978.0 1431.3L1980.0 1431.7L1982.0 1432.4L1984.0 1431.5L1986.0 1431.8L1988.0 1431.9L1990.0 1432.5L1992.0 1432.1L1994.0 1432.4L1996.0 1432.7L1998.0 1432.5L2000.0 1432.6L2002.0 1432.9L2004.0 1432.5L2006.0 1432.7L2008.0 1433.1L2010.0 1433.3L2012.0 1433.2L2014.0 1432.7L2016.0 1433.0L2018.0 1433.3L2020.0 1433.2L2022.0 1432.9L2024.0 1432.5L2026.0 1432.8L2028.0 1432.2L2030.0 1431.8" stroke="#00C8C8" stroke-width="11.5" fill="none" stroke-linecap="round" stroke-linejoin="round" stroke-dasharray="38.8 55.3 41.2 59.3 38.2 54.4 38.1 54.8 36.4 58.4 36.5 61.1 36.6 55.5 44.4 57.6 41.6 47.6 32.9 48.2 36.3 47.9 35.1 47.3 38.2 55.4 38.1 56.1 43.1 56.7 22.3 70.4 29.4 56.0 29.5 66.0 34.9 59.5 38.4 54.8 36.4 56.8 36.4 43.3 36.2 57.0 36.4 32.9 37.2 58.4 35.0 53.5 21.5 41.9 27.3 65.9 36.4 12.5 22.4 70.8 36.4 70.8 24.3 20000.0" stroke-dashoffset="22794.8"/>
<path d="M326.0 1167.6L328.0 1165.1L330.0 1162.5L332.0 1160.2L334.0 1156.9L336.0 1154.8L338.0 1151.8L340.0 1149.6L342.0 1146.7L344.0 1144.0L346.0 1140.9L348.0 1137.7L350.0 1134.9L352.0 1132.1L354.0 1128.3L356.0 1125.5L358.0 1122.1L360.0 1119.4L362.0 1115.4L364.0 1112.2L366.0 1109.0L368.0 1105.5L370.0 1101.5L372.0 1098.5L374.0 1094.8L376.0 1091.1L378.0 1087.4L380.0 1083.8L382.0 1079.3L384.0 1076.5L386.0 1071.8L388.0 1067.4L390.0 1064.0L392.0 1060.3L394.0 1055.6L396.0 1051.9L398.0 1047.6L400.0 1042.6L402.0 1037.6L404.0 1033.5L406.0 1029.7L408.0 1024.5L410.0 1019.6L412.0 1014.9L414.0 1010.4L416.0 1005.5L418.0 1000.8L420.0 995.8L422.0 990.1L424.0 985.2L426.0 979.6L428.0 974.7L430.0 968.9L432.0 963.5L434.0 959.1L436.0 953.1L438.0 947.8L440.0 943.0L442.0 937.0L444.0 931.4L446.0 926.1L448.0 920.5L450.0 915.9L452.0 910.3L454.0 905.8L456.0 900.1L458.0 895.2L460.0 890.3L462.0 885.8L464.0 880.9L466.0 876.5L468.0 871.1L470.0 866.5L472.0 862.0L474.0 856.4L476.0 851.5L478.0 846.7L480.0 841.2L482.0 835.5L484.0 829.8L486.0 825.8L488.0 819.8L490.0 814.6L492.0 808.6L494.0 803.9L496.0 798.0L498.0 792.4L500.0 786.6L502.0 781.5L504.0 775.8L506.0 770.5L508.0 764.7L510.0 759.6L512.0 754.5L514.0 748.8L516.0 743.9L518.0 738.9L520.0 733.5L522.0 728.3L524.0 723.3L526.0 718.8L528.0 713.2L530.0 708.8L532.0 704.0L534.0 699.5L536.0 694.8L538.0 689.9L540.0 686.2L542.0 681.2L544.0 676.2L546.0 671.9L548.0 667.8L550.0 663.6L552.0 658.6L554.0 654.9L556.0 649.9L558.0 645.7L560.0 641.9L562.0 637.8L564.0 633.0L566.0 628.6L568.0 624.7L570.0 619.7L572.0 615.7L574.0 611.4L576.0 607.2L578.0 602.6L580.0 598.0L582.0 593.9L584.0 588.9L586.0 585.1L588.0 580.2L590.0 575.8L592.0 571.6L594.0 567.4L596.0 563.4L598.0 559.1L600.0 555.3L602.0 551.5L604.0 547.4L606.0 543.4L608.0 540.4L610.0 536.7L612.0 532.6L614.0 529.6L616.0 526.6L618.0 523.0L620.0 520.0L622.0 516.6L624.0 514.2L626.0 511.2L628.0 508.2L630.0 505.7L632.0 502.2L634.0 499.3L636.0 497.2L638.0 493.3L640.0 491.0L642.0 487.5L644.0 485.1L646.0 482.8L648.0 479.3L650.0 476.0L652.0 474.0L654.0 470.1L656.0 467.1L658.0 464.2L660.0 460.6L662.0 458.3L664.0 455.3L666.0 451.9L668.0 448.7L670.0 445.5L672.0 442.7L674.0 438.4L676.0 436.3L678.0 433.4L680.0 429.7L682.0 427.5L684.0 424.4L686.0 421.6L688.0 418.8L690.0 416.2L692.0 413.5L694.0 410.4L696.0 408.2L698.0 405.7L700.0 403.3L702.0 400.9L704.0 399.1L706.0 397.1L708.0 395.1L710.0 393.3L712.0 391.2L714.0 388.8L716.0 387.1L718.0 385.4L720.0 384.1L722.0 382.3L724.0 381.1L726.0 379.9L728.0 377.8L730.0 376.9L732.0 375.1L734.0 373.5L736.0 372.2L738.0 371.2L740.0 369.5L742.0 368.9L744.0 368.0L746.0 366.0L748.0 365.0L750.0 364.3L752.0 362.7L754.0 361.4L756.0 359.9L758.0 359.0L760.0 357.5L762.0 355.7L764.0 353.9L766.0 352.4L768.0 351.9L770.0 350.2L772.0 349.2L774.0 347.5L776.0 345.5L778.0 344.5L780.0 343.5L782.0 341.6L784.0 340.5L786.0 340.0L788.0 338.0L790.0 337.4L792.0 337.3L794.0 336.5L796.0 335.7L798.0 335.4L800.0 336.0L802.0 336.4L804.0 336.5L806.0 336.8L808.0 337.7L810.0 337.9L812.0 338.2L814.0 339.7L816.0 339.4L818.0 340.4L820.0 340.9L822.0 341.9L824.0 341.6L826.0 342.0L828.0 341.7L830.0 342.3L832.0 342.1L834.0 341.7L836.0 340.7L838.0 340.4L840.0 339.4L842.0 338.7L844.0 338.1L846.0 337.8L848.0 336.7L850.0 336.3L852.0 335.6L854.0 335.5L856.0 335.4L858.0 335.8L860.0 336.6L862.0 336.7L864.0 338.3L866.0 338.9L868.0 340.7L870.0 341.9L872.0 343.7L874.0 345.5L876.0 347.8L878.0 349.6L880.0 351.9L882.0 353.6L884.0 355.8L886.0 358.5L888.0 359.7L890.0 362.0L892.0 364.3L894.0 366.9L896.0 368.1L898.0 370.4L900.0 372.4L902.0 373.6L904.0 375.4L906.0 377.7L908.0 378.8L910.0 380.4L912.0 382.7L914.0 384.1L916.0 386.5L918.0 388.2L920.0 389.5L922.0 392.2L924.0 394.2L926.0 396.3L928.0 399.2L930.0 400.8L932.0 403.5L934.0 406.4L936.0 409.6L938.0 411.7L940.0 414.9L942.0 417.9L944.0 420.6L946.0 424.0L948.0 426.9L950.0 430.2L952.0 433.5L954.0 436.3L956.0 439.4L958.0 442.4L960.0 445.5L962.0 448.3L964.0 451.4L966.0 454.8L968.0 457.5L970.0 461.9L972.0 463.7L974.0 467.3L976.0 469.9L978.0 473.6L980.0 476.9L982.0 480.5L984.0 484.6L986.0 487.8L988.0 491.3L990.0 495.5L992.0 499.0L994.0 503.0L996.0 507.3L998.0 510.9L1000.0 514.6L1002.0 517.9L1004.0 521.2L1006.0 524.0L1008.0 527.5L1010.0 530.6L1012.0 534.0L1014.0 537.2L1016.0 540.1L1018.0 542.8L1020.0 546.8L1022.0 549.9L1024.0 552.8L1026.0 556.5L1028.0 560.3L1030.0 564.0L1032.0 568.0L1034.0 572.4L1036.0 576.5L1038.0 580.9L1040.0 584.8L1042.0 589.2L1044.0 594.6L1046.0 598.0L1048.0 602.9L1050.0 607.0L1052.0 611.2L1054.0 615.0L1056.0 619.5L1058.0 623.3L1060.0 627.1L1062.0 630.8L1064.0 635.1L1066.0 639.0L1068.0 642.9L1070.0 647.4L1072.0 651.6L1074.0 655.8L1076.0 659.8L1078.0 663.8L1080.0 668.5L1082.0 672.6L1084.0 677.2L1086.0 681.0L1088.0 684.7L1090.0 689.5L1092.0 694.2L1094.0 697.8L1096.0 701.8L1098.0 705.9L1100.0 710.8L1102.0 714.3L1104.0 718.4L1106.0 722.7L1108.0 726.2L1110.0 730.5L1112.0 734.2L1114.0 738.5L1116.0 742.6L1118.0 746.7L1120.0 750.2L1122.0 754.5L1124.0 758.1L1126.0 761.7L1128.0 766.4L1130.0 770.3L1132.0 774.5L1134.0 777.8L1136.0 782.9L1138.0 787.3L1140.0 791.7L1142.0 796.4L1144.0 800.6L1146.0 806.1L1148.0 810.5L1150.0 815.4L1152.0 819.6L1154.0 824.8L1156.0 830.9L1158.0 835.5L1160.0 840.6L1162.0 844.9L1164.0 849.6L1166.0 854.2L1168.0 857.9L1170.0 862.5L1172.0 865.5L1174.0 869.6L1176.0 872.9L1178.0 876.6L1180.0 880.3L1182.0 883.0L1184.0 886.9L1186.0 890.3L1188.0 894.1L1190.0 897.4L1192.0 901.0L1194.0 905.0L1196.0 909.1L1198.0 912.8L1200.0 916.5L1202.0 920.4L1204.0 923.8L1206.0 928.0L1208.0 932.0L1210.0 935.9L1212.0 939.7L1214.0 943.8L1216.0 947.7L1218.0 951.9L1220.0 954.8L1222.0 958.4L1224.0 962.6L1226.0 966.0L1228.0 969.3L1230.0 973.6L1232.0 976.7L1234.0 980.2L1236.0 983.8L1238.0 987.3L1240.0 991.3L1242.0 994.6L1244.0 999.2L1246.0 1002.2L1248.0 1005.7L1250.0 1009.2L1252.0 1013.1L1254.0 1016.9L1256.0 1020.3L1258.0 1023.5L1260.0 1027.3L1262.0 1030.5L1264.0 1034.9L1266.0 1038.2L1268.0 1041.6L1270.0 1045.1L1272.0 1048.3L1274.0 1051.8L1276.0 1055.5L1278.0 1058.5L1280.0 1062.0L1282.0 1065.2L1284.0 1068.4L1286.0 1071.7L1288.0 1075.0L1290.0 1077.7L1292.0 1081.1L1294.0 1083.6L1296.0 1086.7L1298.0 1089.5L1300.0 1092.8L1302.0 1095.3L1304.0 1098.6L1306.0 1100.7L1308.0 1104.0L1310.0 1106.4L1312.0 1110.1L1314.0 1112.5L1316.0 1115.9L1318.0 1118.7L1320.0 1121.8L1322.0 1125.3L1324.0 1127.9L1326.0 1131.3L1328.0 1135.4L1330.0 1137.9L1332.0 1141.7L1334.0 1144.5L1336.0 1147.5L1338.0 1151.1L1340.0 1154.7L1342.0 1157.6L1344.0 1160.7L1346.0 1164.2L1348.0 1166.8L1350.0 1170.3L1352.0 1173.1L1354.0 1175.6L1356.0 1179.1L1358.0 1181.9L1360.0 1184.2L1362.0 1186.9L1364.0 1189.2L1366.0 1191.3L1368.0 1194.1L1370.0 1195.6L1372.0 1197.9L1374.0 1199.3L1376.0 1200.9L1378.0 1202.9L1380.0 1204.3L1382.0 1206.3L1384.0 1207.1L1386.0 1208.7L1388.0 1210.1L1390.0 1211.5L1392.0 1213.5L1394.0 1215.1L1396.0 1216.6L1398.0 1217.9L1400.0 1220.2L1402.0 1222.2L1404.0 1224.2L1406.0 1226.2L1408.0 1229.2L1410.0 1231.7L1412.0 1233.9L1414.0 1236.4L1416.0 1239.2L1418.0 1241.6L1420.0 1243.4L1422.0 1244.9L1424.0 1248.2L1426.0 1250.3L1428.0 1252.7L1430.0 1254.5L1432.0 1256.5L1434.0 1259.1L1436.0 1260.9L1438.0 1263.1L1440.0 1265.2L1442.0 1267.0L1444.0 1268.4L1446.0 1270.8L1448.0 1272.3L1450.0 1274.1L1452.0 1275.9L1454.0 1277.0L1456.0 1278.9L1458.0 1279.9L1460.0 1281.6L1462.0 1283.2L1464.0 1284.3L1466.0 1285.5L1468.0 1286.8L1470.0 1287.6L1472.0 1288.2L1474.0 1290.1L1476.0 1290.9L1478.0 1292.2L1480.0 1293.1L1482.0 1294.5L1484.0 1296.0L1486.0 1297.3L1488.0 1299.5L1490.0 1301.2L1492.0 1303.8L1494.0 1304.6L1496.0 1307.1L1498.0 1308.9L1500.0 1310.8L1502.0 1312.6L1504.0 1314.4L1506.0 1316.2L1508.0 1317.0L1510.0 1319.1L1512.0 1320.1L1514.0 1321.2L1516.0 1322.2L1518.0 1323.4L1520.0 1325.1L1522.0 1325.9L1524.0 1327.1L1526.0 1328.4L1528.0 1329.8L1530.0 1330.8L1532.0 1331.7L1534.0 1333.0L1536.0 1334.3L1538.0 1335.2L1540.0 1336.9L1542.0 1338.2L1544.0 1339.3L1546.0 1339.9L1548.0 1341.0L1550.0 1342.0L1552.0 1343.8L1554.0 1344.3L1556.0 1346.2L1558.0 1346.0L1560.0 1347.7L1562.0 1348.9L1564.0 1349.8L1566.0 1351.0L1568.0 1352.5L1570.0 1352.9L1572.0 1354.2L1574.0 1354.8L1576.0 1355.6L1578.0 1356.7L1580.0 1358.2L1582.0 1359.0L1584.0 1359.5L1586.0 1361.0L1588.0 1362.0L1590.0 1362.9L1592.0 1364.0L1594.0 1364.2L1596.0 1365.2L1598.0 1366.1L1600.0 1367.4L1602.0 1368.6L1604.0 1368.9L1606.0 1370.0L1608.0 1371.0L1610.0 1371.5L1612.0 1372.7L1614.0 1373.3L1616.0 1374.6L1618.0 1375.3L1620.0 1375.6L1622.0 1376.3L1624.0 1377.8L1626.0 1377.8L1628.0 1379.1L1630.0 1379.4L1632.0 1379.9L1634.0 1381.5L1636.0 1381.9L1638.0 1382.1L1640.0 1383.1L1642.0 1383.6L1644.0 1384.2L1646.0 1385.2L1648.0 1386.2L1650.0 1386.1L1652.0 1387.3L1654.0 1387.4L1656.0 1388.4L1658.0 1388.6L1660.0 1389.3L1662.0 1390.0L1664.0 1391.1L1666.0 1391.7L1668.0 1391.9L1670.0 1392.4L1672.0 1393.1L1674.0 1394.5L1676.0 1394.3L1678.0 1394.6L1680.0 1395.0L1682.0 1395.6L1684.0 1396.4L1686.0 1396.8L1688.0 1396.4L1690.0 1398.2L1692.0 1398.1L1694.0 1398.4L1696.0 1399.7L1698.0 1398.8L1700.0 1399.3L1702.0 1400.4L1704.0 1400.4L1706.0 1401.0L1708.0 1401.5L1710.0 1402.0L1712.0 1402.0L1714.0 1401.9L1716.0 1401.9L1718.0 1402.7L1720.0 1402.5L1722.0 1403.3L1724.0 1403.3L1726.0 1403.9L1728.0 1404.2L1730.0 1404.2L1732.0 1404.0L1734.0 1404.7L1736.0 1404.7L1738.0 1405.2L1740.0 1405.2L1742.0 1406.2L1744.0 1405.6L1746.0 1405.4L1748.0 1406.0L1750.0 1406.5L1752.0 1407.6L1754.0 1407.5L1756.0 1407.1L1758.0 1407.6L1760.0 1407.6L1762.0 1407.8L1764.0 1408.9L1766.0 1409.1L1768.0 1409.1L1770.0 1409.5L1772.0 1410.3L1774.0 1410.8L1776.0 1410.7L1778.0 1410.9L1780.0 1412.1L1782.0 1412.1L1784.0 1412.2L1786.0 1413.1L1788.0 1413.7L1790.0 1414.3L1792.0 1414.3L1794.0 1415.0L1796.0 1415.0L1798.0 1415.9L1800.0 1415.7L1802.0 1416.8L1804.0 1417.1L1806.0 1417.0L1808.0 1417.6L1810.0 1418.7L1812.0 1418.2L1814.0 1418.4L1816.0 1419.2L1818.0 1419.6L1820.0 1420.1L1822.0 1420.1L1824.0 1420.3L1826.0 1420.6L1828.0 1421.1L1830.0 1421.0L1832.0 1421.4L1834.0 1420.8L1836.0 1421.4L1838.0 1421.6L1840.0 1422.0L1842.0 1421.9L1844.0 1421.9L1846.0 1422.2L1848.0 1421.9L1850.0 1422.8L1852.0 1421.6L1854.0 1421.9L1856.0 1422.4L1858.0 1422.0L1860.0 1421.8L1862.0 1422.0L1864.0 1421.5L1866.0 1421.6L1868.0 1421.6L1870.0 1422.1L1872.0 1421.5L1874.0 1422.0L1876.0 1421.3L1878.0 1421.3L1880.0 1420.7L1882.0 1421.3L1884.0 1420.5L1886.0 1421.3L1888.0 1421.4L1890.0 1421.2L1892.0 1420.7L1894.0 1421.0L1896.0 1420.3L1898.0 1420.9L1900.0 1421.3L1902.0 1421.3L1904.0 1421.3L1906.0 1421.9L1908.0 1421.8L1910.0 1421.8L1912.0 1422.1L1914.0 1421.9L1916.0 1422.4L1918.0 1422.1L1920.0 1422.1L1922.0 1423.1L1924.0 1423.7L1926.0 1423.4L1928.0 1424.1L1930.0 1423.8L1932.0 1424.6L1934.0 1424.9L1936.0 1425.2L1938.0 1425.0L1940.0 1425.9L1942.0 1426.2L1944.0 1426.5L1946.0 1427.2L1948.0 1426.7L1950.0 1427.1L1952.0 1427.7L1954.0 1427.1L1956.0 1427.5L1958.0 1428.3L1960.0 1428.0L1962.0 1428.0L1964.0 1428.5L1966.0 1428.1L1968.0 1428.6L1970.0 1428.3L1972.0 1428.5L1974.0 1427.9L1976.0 1428.7L1978.0 1428.6L1980.0 1428.4L1982.0 1428.1L1984.0 1428.2L1986.0 1428.4L1988.0 1428.0L1990.0 1427.2L1992.0 1427.2L1994.0 1426.7L1996.0 1426.5L1998.0 1425.6L2000.0 1425.8L2002.0 1424.6L2004.0 1423.9L2006.0 1423.6L2008.0 1423.3L2010.0 1421.6L2012.0 1421.3L2014.0 1420.6L2016.0 1420.3L2018.0 1418.0L2020.0 1417.8L2022.0 1416.1L2024.0 1415.1L2026.0 1414.2L2028.0 1412.6L2030.0 1410.8" stroke="#7B4E4E" stroke-width="11.5" fill="none" stroke-linecap="round" stroke-linejoin="round" stroke-dasharray="41.3 60.6 38.8 55.6 41.2 55.0 37.3 54.8 37.2 60.2 36.4 52.7 44.2 55.5 36.2 53.5 40.8 51.0 35.8 45.3 33.3 37.6 25.3 49.3 46.6 56.8 41.3 50.2 37.7 55.4 40.7 55.6 36.9 53.3 35.3 56.1 37.4 46.7 42.8 47.0 37.2 55.7 46.0 42.5 37.2 45.6 39.1 42.5 24.2 39.1 28.9 39.1 36.5 39.1 34.7 98.3 33.4 41.3 37.1 41.2 28.8 43.3 33.7 20000.0" stroke-dashoffset="22754.7"/>
<path d="M326.0 1195.8L328.0 1192.9L330.0 1189.4L332.0 1187.4L334.0 1185.1L336.0 1182.2L338.0 1180.3L340.0 1178.1L342.0 1175.8L344.0 1173.6L346.0 1171.2L348.0 1170.1L350.0 1167.5L352.0 1166.0L354.0 1163.1L356.0 1160.4L358.0 1157.3L360.0 1154.9L362.0 1151.0L364.0 1148.2L366.0 1143.9L368.0 1140.2L370.0 1135.7L372.0 1132.8L374.0 1127.9L376.0 1123.7L378.0 1119.9L380.0 1115.3L382.0 1111.7L384.0 1107.2L386.0 1104.0L388.0 1099.9L390.0 1096.2L392.0 1093.1L394.0 1089.5L396.0 1086.8L398.0 1083.3L400.0 1080.0L402.0 1076.4L404.0 1072.7L406.0 1069.1L408.0 1065.5L410.0 1061.0L412.0 1056.6L414.0 1052.1L416.0 1047.8L418.0 1042.9L420.0 1039.0L422.0 1033.2L424.0 1028.4L426.0 1023.7L428.0 1019.1L430.0 1013.9L432.0 1008.8L434.0 1004.0L436.0 999.2L438.0 994.7L440.0 989.3L442.0 984.7L444.0 979.7L446.0 975.2L448.0 970.4L450.0 965.0L452.0 961.4L454.0 955.9L456.0 950.9L458.0 946.1L460.0 941.5L462.0 936.8L464.0 932.2L466.0 927.3L468.0 922.7L470.0 917.4L472.0 912.9L474.0 908.1L476.0 903.6L478.0 898.9L480.0 893.5L482.0 889.0L484.0 884.3L486.0 879.3L488.0 873.6L490.0 869.0L492.0 863.7L494.0 858.1L496.0 853.4L498.0 847.0L500.0 841.6L502.0 836.0L504.0 830.1L506.0 824.0L508.0 818.5L510.0 812.6L512.0 806.4L514.0 800.5L516.0 794.2L518.0 788.0L520.0 783.3L522.0 776.7L524.0 772.2L526.0 766.2L528.0 761.2L530.0 756.2L532.0 751.9L534.0 747.0L536.0 743.5L538.0 738.9L540.0 734.8L542.0 730.5L544.0 726.8L546.0 722.7L548.0 719.2L550.0 714.7L552.0 709.6L554.0 706.1L556.0 700.4L558.0 696.9L560.0 691.2L562.0 687.0L564.0 682.5L566.0 677.5L568.0 672.5L570.0 668.5L572.0 663.0L574.0 658.5L576.0 654.9L578.0 649.7L580.0 645.7L582.0 641.5L584.0 637.0L586.0 632.9L588.0 628.7L590.0 624.6L592.0 620.9L594.0 616.8L596.0 612.7L598.0 609.0L600.0 604.7L602.0 600.8L604.0 597.0L606.0 593.8L608.0 590.4L610.0 586.4L612.0 582.2L614.0 579.1L616.0 575.9L618.0 572.4L620.0 568.9L622.0 565.8L624.0 562.5L626.0 558.5L628.0 555.8L630.0 552.2L632.0 549.3L634.0 546.5L636.0 543.5L638.0 540.1L640.0 536.6L642.0 533.7L644.0 530.9L646.0 527.5L648.0 524.8L650.0 522.1L652.0 519.3L654.0 516.1L656.0 513.5L658.0 511.0L660.0 507.9L662.0 504.5L664.0 502.4L666.0 499.7L668.0 496.9L670.0 494.4L672.0 491.3L674.0 489.6L676.0 486.8L678.0 484.0L680.0 481.8L682.0 479.3L684.0 476.6L686.0 473.7L688.0 471.3L690.0 470.4L692.0 467.2L694.0 465.2L696.0 463.2L698.0 460.7L700.0 459.0L702.0 456.3L704.0 454.6L706.0 451.7L708.0 450.5L710.0 448.5L712.0 446.4L714.0 444.4L716.0 442.5L718.0 440.8L720.0 438.9L722.0 436.5L724.0 435.3L726.0 433.0L728.0 431.5L730.0 429.7L732.0 428.2L734.0 426.3L736.0 424.9L738.0 423.1L740.0 421.4L742.0 420.4L744.0 418.8L746.0 417.3L748.0 416.0L750.0 414.0L752.0 413.2L754.0 411.3L756.0 410.4L758.0 408.9L760.0 407.8L762.0 406.7L764.0 405.3L766.0 403.9L768.0 403.3L770.0 402.3L772.0 401.0L774.0 400.1L776.0 398.3L778.0 397.9L780.0 396.9L782.0 395.5L784.0 395.3L786.0 394.5L788.0 393.3L790.0 392.8L792.0 392.5L794.0 392.0L796.0 391.5L798.0 390.5L800.0 390.1L802.0 389.9L804.0 389.7L806.0 389.3L808.0 389.3L810.0 389.4L812.0 389.4L814.0 389.2L816.0 388.9L818.0 389.3L820.0 389.8L822.0 390.2L824.0 390.6L826.0 390.4L828.0 391.0L830.0 391.2L832.0 391.2L834.0 392.3L836.0 392.6L838.0 394.0L840.0 394.3L842.0 394.4L844.0 395.1L846.0 395.7L848.0 396.6L850.0 396.8L852.0 397.5L854.0 397.7L856.0 398.5L858.0 399.0L860.0 399.4L862.0 399.7L864.0 400.6L866.0 400.8L868.0 402.0L870.0 402.2L872.0 402.7L874.0 404.3L876.0 404.3L878.0 405.3L880.0 405.8L882.0 406.8L884.0 407.9L886.0 408.7L888.0 410.4L890.0 411.0L892.0 412.0L894.0 413.9L896.0 415.1L898.0 415.5L900.0 417.5L902.0 419.5L904.0 420.5L906.0 422.3L908.0 424.1L910.0 425.3L912.0 427.6L914.0 430.0L916.0 432.3L918.0 433.9L920.0 436.1L922.0 438.5L924.0 440.7L926.0 443.2L928.0 445.2L930.0 447.9L932.0 450.5L934.0 453.1L936.0 455.1L938.0 458.4L940.0 460.9L942.0 463.6L944.0 465.8L946.0 469.1L948.0 471.4L950.0 474.0L952.0 477.6L954.0 480.4L956.0 483.3L958.0 486.3L960.0 489.1L962.0 492.3L964.0 495.2L966.0 498.3L968.0 501.5L970.0 503.9L972.0 506.8L974.0 510.0L976.0 512.0L978.0 515.1L980.0 518.1L982.0 520.5L984.0 524.1L986.0 527.2L988.0 529.3L990.0 532.4L992.0 535.8L994.0 539.0L996.0 541.0L998.0 544.7L1000.0 547.5L1002.0 550.1L1004.0 553.7L1006.0 556.8L1008.0 560.2L1010.0 563.4L1012.0 566.5L1014.0 569.9L1016.0 573.3L1018.0 576.9L1020.0 580.5L1022.0 584.0L1024.0 587.0L1026.0 590.7L1028.0 594.4L1030.0 598.7L1032.0 602.2L1034.0 605.6L1036.0 609.3L1038.0 613.2L1040.0 617.4L1042.0 621.0L1044.0 625.2L1046.0 629.6L1048.0 633.1L1050.0 637.4L1052.0 640.7L1054.0 645.2L1056.0 649.2L1058.0 652.8L1060.0 657.5L1062.0 661.1L1064.0 664.9L1066.0 668.9L1068.0 673.3L1070.0 676.5L1072.0 680.9L1074.0 684.5L1076.0 688.7L1078.0 692.4L1080.0 696.4L1082.0 700.5L1084.0 704.2L1086.0 708.2L1088.0 712.1L1090.0 715.8L1092.0 719.6L1094.0 723.4L1096.0 727.4L1098.0 731.3L1100.0 735.3L1102.0 739.1L1104.0 742.1L1106.0 746.3L1108.0 750.1L1110.0 754.2L1112.0 758.0L1114.0 761.1L1116.0 765.5L1118.0 768.8L1120.0 773.1L1122.0 777.0L1124.0 781.1L1126.0 785.8L1128.0 789.2L1130.0 793.4L1132.0 797.7L1134.0 802.3L1136.0 805.7L1138.0 811.1L1140.0 814.8L1142.0 819.2L1144.0 824.1L1146.0 828.8L1148.0 834.1L1150.0 838.2L1152.0 842.5L1154.0 847.4L1156.0 852.0L1158.0 857.3L1160.0 862.2L1162.0 866.7L1164.0 872.0L1166.0 876.0L1168.0 881.2L1170.0 885.9L1172.0 890.8L1174.0 895.2L1176.0 900.4L1178.0 904.2L1180.0 908.5L1182.0 912.8L1184.0 916.6L1186.0 920.0L1188.0 922.4L1190.0 926.2L1192.0 929.4L1194.0 932.3L1196.0 935.3L1198.0 938.3L1200.0 941.6L1202.0 944.2L1204.0 946.9L1206.0 949.9L1208.0 953.4L1210.0 956.0L1212.0 960.0L1214.0 962.9L1216.0 966.4L1218.0 970.2L1220.0 973.7L1222.0 977.7L1224.0 981.0L1226.0 984.7L1228.0 989.7L1230.0 993.1L1232.0 996.3L1234.0 1001.6L1236.0 1004.7L1238.0 1009.8L1240.0 1013.7L1242.0 1017.5L1244.0 1021.2L1246.0 1024.9L1248.0 1029.4L1250.0 1032.9L1252.0 1037.2L1254.0 1040.5L1256.0 1043.8L1258.0 1047.7L1260.0 1051.5L1262.0 1054.8L1264.0 1058.3L1266.0 1061.2L1268.0 1065.1L1270.0 1067.5L1272.0 1070.6L1274.0 1072.7L1276.0 1076.1L1278.0 1078.8L1280.0 1080.9L1282.0 1083.0L1284.0 1085.0L1286.0 1087.7L1288.0 1089.8L1290.0 1091.4L1292.0 1094.0L1294.0 1096.4L1296.0 1098.3L1298.0 1101.0L1300.0 1103.2L1302.0 1106.3L1304.0 1108.2L1306.0 1111.7L1308.0 1114.6L1310.0 1117.3L1312.0 1121.1L1314.0 1124.8L1316.0 1129.4L1318.0 1133.1L1320.0 1137.3L1322.0 1141.5L1324.0 1146.1L1326.0 1148.9L1328.0 1153.0L1330.0 1155.7L1332.0 1158.4L1334.0 1161.6L1336.0 1164.4L1338.0 1167.4L1340.0 1169.8L1342.0 1172.5L1344.0 1176.0L1346.0 1178.0L1348.0 1180.6L1350.0 1183.5L1352.0 1185.0L1354.0 1188.3L1356.0 1190.6L1358.0 1193.4L1360.0 1195.9L1362.0 1198.7L1364.0 1201.5L1366.0 1203.7L1368.0 1205.6L1370.0 1207.8L1372.0 1209.1L1374.0 1210.4L1376.0 1213.4L1378.0 1215.4L1380.0 1216.6L1382.0 1217.9L1384.0 1219.8L1386.0 1221.8L1388.0 1222.7L1390.0 1224.8L1392.0 1226.8L1394.0 1228.1L1396.0 1231.0L1398.0 1232.7L1400.0 1235.1L1402.0 1236.6L1404.0 1239.4L1406.0 1242.3L1408.0 1244.5L1410.0 1247.4L1412.0 1248.9L1414.0 1251.9L1416.0 1253.7L1418.0 1256.5L1420.0 1258.9L1422.0 1260.9L1424.0 1262.6L1426.0 1265.1L1428.0 1267.1L1430.0 1268.7L1432.0 1270.7L1434.0 1272.6L1436.0 1274.3L1438.0 1275.4L1440.0 1277.2L1442.0 1278.4L1444.0 1280.1L1446.0 1281.9L1448.0 1282.9L1450.0 1284.2L1452.0 1285.5L1454.0 1287.1L1456.0 1288.8L1458.0 1289.9L1460.0 1290.8L1462.0 1292.3L1464.0 1293.6L1466.0 1295.0L1468.0 1295.6L1470.0 1297.2L1472.0 1298.1L1474.0 1299.3L1476.0 1301.1L1478.0 1302.1L1480.0 1303.2L1482.0 1304.8L1484.0 1305.7L1486.0 1306.6L1488.0 1308.4L1490.0 1309.0L1492.0 1310.3L1494.0 1311.7L1496.0 1313.0L1498.0 1314.5L1500.0 1315.4L1502.0 1316.2L1504.0 1317.8L1506.0 1319.4L1508.0 1320.5L1510.0 1321.8L1512.0 1322.7L1514.0 1324.2L1516.0 1325.8L1518.0 1327.1L1520.0 1328.0L1522.0 1329.3L1524.0 1330.5L1526.0 1332.4L1528.0 1333.3L1530.0 1334.7L1532.0 1335.9L1534.0 1337.2L1536.0 1338.8L1538.0 1340.5L1540.0 1341.4L1542.0 1343.3L1544.0 1344.3L1546.0 1345.8L1548.0 1347.7L1550.0 1349.0L1552.0 1349.8L1554.0 1351.0L1556.0 1352.3L1558.0 1353.9L1560.0 1354.4L1562.0 1356.0L1564.0 1357.5L1566.0 1358.6L1568.0 1359.7L1570.0 1361.7L1572.0 1362.1L1574.0 1363.6L1576.0 1364.7L1578.0 1365.9L1580.0 1366.9L1582.0 1368.5L1584.0 1369.3L1586.0 1371.0L1588.0 1371.1L1590.0 1372.5L1592.0 1373.1L1594.0 1374.5L1596.0 1375.7L1598.0 1376.0L1600.0 1377.5L1602.0 1377.8L1604.0 1378.6L1606.0 1379.9L1608.0 1380.8L1610.0 1381.4L1612.0 1382.2L1614.0 1382.9L1616.0 1383.5L1618.0 1383.7L1620.0 1384.9L1622.0 1385.5L1624.0 1386.5L1626.0 1386.8L1628.0 1388.2L1630.0 1388.4L1632.0 1388.7L1634.0 1389.6L1636.0 1389.9L1638.0 1390.9L1640.0 1391.0L1642.0 1392.0L1644.0 1391.8L1646.0 1392.7L1648.0 1393.1L1650.0 1393.3L1652.0 1394.0L1654.0 1394.5L1656.0 1394.6L1658.0 1395.2L1660.0 1396.0L1662.0 1396.0L1664.0 1397.2L1666.0 1397.6L1668.0 1397.3L1670.0 1398.0L1672.0 1398.4L1674.0 1398.9L1676.0 1398.9L1678.0 1399.6L1680.0 1399.6L1682.0 1400.1L1684.0 1400.8L1686.0 1400.8L1688.0 1400.9L1690.0 1401.4L1692.0 1402.0L1694.0 1402.0L1696.0 1402.3L1698.0 1403.0L1700.0 1403.0L1702.0 1404.2L1704.0 1403.8L1706.0 1404.5L1708.0 1404.2L1710.0 1404.9L1712.0 1405.6L1714.0 1405.9L1716.0 1406.3L1718.0 1406.3L1720.0 1406.9L1722.0 1407.2L1724.0 1407.2L1726.0 1408.3L1728.0 1408.2L1730.0 1408.7L1732.0 1409.4L1734.0 1409.7L1736.0 1410.7L1738.0 1410.3L1740.0 1411.1L1742.0 1411.1L1744.0 1411.5L1746.0 1412.2L1748.0 1412.5L1750.0 1412.5L1752.0 1413.0L1754.0 1413.5L1756.0 1414.3L1758.0 1414.0L1760.0 1414.6L1762.0 1415.1L1764.0 1415.3L1766.0 1415.5L1768.0 1416.3L1770.0 1416.1L1772.0 1417.3L1774.0 1416.3L1776.0 1416.8L1778.0 1417.8L1780.0 1418.3L1782.0 1418.5L1784.0 1418.5L1786.0 1418.9L1788.0 1419.3L1790.0 1419.3L1792.0 1419.7L1794.0 1419.8L1796.0 1420.7L1798.0 1420.8L1800.0 1420.8L1802.0 1421.0L1804.0 1421.3L1806.0 1421.5L1808.0 1421.9L1810.0 1422.0L1812.0 1422.1L1814.0 1422.6L1816.0 1422.6L1818.0 1422.8L1820.0 1423.1L1822.0 1423.1L1824.0 1423.0L1826.0 1423.5L1828.0 1424.0L1830.0 1423.6L1832.0 1423.7L1834.0 1424.0L1836.0 1424.1L1838.0 1424.7L1840.0 1424.3L1842.0 1424.9L1844.0 1424.9L1846.0 1424.9L1848.0 1425.0L1850.0 1425.0L1852.0 1425.1L1854.0 1425.4L1856.0 1424.4L1858.0 1425.2L1860.0 1425.5L1862.0 1425.0L1864.0 1425.2L1866.0 1425.5L1868.0 1424.7L1870.0 1425.3L1872.0 1424.9L1874.0 1425.3L1876.0 1425.4L1878.0 1425.4L1880.0 1425.0L1882.0 1425.4L1884.0 1425.2L1886.0 1425.6L1888.0 1425.4L1890.0 1425.3L1892.0 1426.0L1894.0 1425.4L1896.0 1425.7L1898.0 1426.3L1900.0 1426.2L1902.0 1426.5L1904.0 1426.1L1906.0 1426.7L1908.0 1426.6L1910.0 1426.5L1912.0 1427.5L1914.0 1427.3L1916.0 1427.9L1918.0 1428.0L1920.0 1428.8L1922.0 1429.2L1924.0 1429.1L1926.0 1429.5L1928.0 1429.5L1930.0 1430.7L1932.0 1431.3L1934.0 1431.7L1936.0 1432.8L1938.0 1433.2L1940.0 1433.9L1942.0 1434.5L1944.0 1435.0L1946.0 1436.2L1948.0 1437.3L1950.0 1438.2L1952.0 1438.7L1954.0 1439.1L1956.0 1440.2L1958.0 1441.2L1960.0 1441.7L1962.0 1442.7L1964.0 1443.4L1966.0 1444.1L1968.0 1444.8L1970.0 1445.9L1972.0 1446.7L1974.0 1447.5L1976.0 1447.6L1978.0 1448.3L1980.0 1448.2L1982.0 1449.2L1984.0 1449.9L1986.0 1449.5L1988.0 1450.1L1990.0 1449.9L1992.0 1450.2L1994.0 1450.2L1996.0 1449.4L1998.0 1449.3L2000.0 1449.0L2002.0 1448.7L2004.0 1448.6L2006.0 1447.5L2008.0 1446.7L2010.0 1445.8L2012.0 1444.4L2014.0 1443.7L2016.0 1442.2L2018.0 1440.7L2020.0 1438.9L2022.0 1436.6L2024.0 1435.2L2026.0 1432.6L2028.0 1430.2L2030.0 1428.8" stroke="#8F8C00" stroke-width="11.5" fill="none" stroke-linecap="round" stroke-linejoin="round" stroke-dasharray="42.1 61.3 40.4 54.6 38.5 55.6 37.9 59.7 33.2 57.4 42.1 54.4 39.7 60.1 37.9 60.7 40.2 52.1 38.2 43.7 35.2 44.0 34.3 53.1 48.5 49.6 42.2 54.8 40.4 57.0 39.0 52.5 40.6 55.2 41.9 48.7 37.6 53.0 37.9 47.4 38.9 42.9 25.7 36.4 35.4 52.7 36.5 39.5 25.1 44.8 24.0 49.4 27.3 39.2 25.0 41.3 27.4 48.5 34.9 47.0 34.3 56.2 37.9 20000.0" stroke-dashoffset="22723.3"/>
<path d="M326.0 1259.4L328.0 1258.2L330.0 1256.7L332.0 1255.6L334.0 1253.9L336.0 1252.5L338.0 1251.1L340.0 1249.4L342.0 1247.6L344.0 1245.6L346.0 1243.7L348.0 1241.8L350.0 1240.0L352.0 1238.2L354.0 1235.9L356.0 1233.8L358.0 1232.1L360.0 1229.3L362.0 1227.6L364.0 1225.5L366.0 1222.8L368.0 1220.4L370.0 1218.1L372.0 1216.0L374.0 1213.3L376.0 1210.2L378.0 1208.1L380.0 1205.9L382.0 1203.2L384.0 1200.3L386.0 1197.3L388.0 1193.9L390.0 1191.7L392.0 1188.6L394.0 1185.7L396.0 1183.1L398.0 1179.7L400.0 1176.6L402.0 1173.5L404.0 1170.0L406.0 1166.6L408.0 1163.3L410.0 1160.4L412.0 1156.9L414.0 1153.2L416.0 1150.2L418.0 1146.4L420.0 1142.4L422.0 1139.3L424.0 1135.4L426.0 1131.4L428.0 1128.2L430.0 1124.1L432.0 1120.2L434.0 1116.6L436.0 1111.9L438.0 1108.2L440.0 1104.4L442.0 1100.5L444.0 1096.2L446.0 1091.9L448.0 1087.7L450.0 1083.7L452.0 1079.7L454.0 1074.8L456.0 1070.2L458.0 1066.4L460.0 1061.9L462.0 1057.3L464.0 1053.3L466.0 1048.8L468.0 1043.9L470.0 1039.4L472.0 1035.1L474.0 1030.2L476.0 1025.3L478.0 1021.0L480.0 1016.1L482.0 1011.8L484.0 1006.8L486.0 1002.2L488.0 997.7L490.0 992.8L492.0 987.9L494.0 983.0L496.0 979.1L498.0 974.1L500.0 968.6L502.0 964.0L504.0 959.7L506.0 954.6L508.0 950.0L510.0 945.5L512.0 940.5L514.0 935.7L516.0 930.9L518.0 926.2L520.0 921.7L522.0 917.4L524.0 912.5L526.0 907.5L528.0 903.1L530.0 898.3L532.0 893.2L534.0 889.0L536.0 884.8L538.0 879.7L540.0 875.6L542.0 870.7L544.0 866.4L546.0 861.5L548.0 858.0L550.0 853.1L552.0 848.9L554.0 844.1L556.0 839.4L558.0 835.9L560.0 831.0L562.0 827.4L564.0 822.6L566.0 818.9L568.0 814.0L570.0 809.5L572.0 806.1L574.0 801.7L576.0 797.7L578.0 793.9L580.0 789.3L582.0 785.2L584.0 781.3L586.0 777.2L588.0 773.2L590.0 769.5L592.0 765.8L594.0 762.1L596.0 758.1L598.0 754.7L600.0 751.3L602.0 747.3L604.0 743.9L606.0 739.9L608.0 736.7L610.0 733.2L612.0 729.4L614.0 725.7L616.0 722.7L618.0 719.4L620.0 716.5L622.0 712.6L624.0 710.0L626.0 705.5L628.0 703.0L630.0 699.8L632.0 696.7L634.0 693.6L636.0 690.7L638.0 688.2L640.0 684.7L642.0 682.2L644.0 678.9L646.0 676.1L648.0 672.5L650.0 670.5L652.0 667.9L654.0 664.7L656.0 662.1L658.0 659.4L660.0 657.7L662.0 654.2L664.0 651.7L666.0 648.7L668.0 646.5L670.0 644.6L672.0 641.8L674.0 639.0L676.0 637.4L678.0 635.2L680.0 633.0L682.0 630.8L684.0 628.4L686.0 627.2L688.0 624.1L690.0 622.3L692.0 619.8L694.0 617.9L696.0 615.7L698.0 614.3L700.0 612.1L702.0 610.1L704.0 607.9L706.0 606.8L708.0 605.1L710.0 603.3L712.0 601.3L714.0 599.8L716.0 598.1L718.0 596.3L720.0 595.0L722.0 592.8L724.0 591.3L726.0 589.2L728.0 588.7L730.0 586.3L732.0 585.1L734.0 583.6L736.0 581.7L738.0 580.4L740.0 579.1L742.0 577.4L744.0 575.9L746.0 574.4L748.0 572.9L750.0 571.6L752.0 570.3L754.0 569.0L756.0 567.7L758.0 566.0L760.0 564.5L762.0 563.5L764.0 561.9L766.0 560.7L768.0 559.1L770.0 557.9L772.0 556.5L774.0 555.3L776.0 553.5L778.0 552.4L780.0 551.3L782.0 550.5L784.0 548.8L786.0 547.8L788.0 546.5L790.0 544.9L792.0 544.8L794.0 543.7L796.0 543.0L798.0 541.3L800.0 541.0L802.0 540.2L804.0 539.0L806.0 539.0L808.0 538.2L810.0 538.1L812.0 537.0L814.0 537.0L816.0 536.8L818.0 536.4L820.0 536.9L822.0 537.3L824.0 537.0L826.0 537.5L828.0 538.0L830.0 538.1L832.0 538.3L834.0 538.3L836.0 539.5L838.0 539.9L840.0 540.5L842.0 541.5L844.0 542.1L846.0 542.1L848.0 543.4L850.0 543.9L852.0 545.0L854.0 545.4L856.0 546.5L858.0 546.8L860.0 547.7L862.0 548.5L864.0 549.4L866.0 550.3L868.0 551.6L870.0 551.9L872.0 553.1L874.0 553.8L876.0 554.7L878.0 556.0L880.0 556.8L882.0 558.3L884.0 559.2L886.0 560.4L888.0 561.9L890.0 563.5L892.0 564.1L894.0 565.0L896.0 566.8L898.0 568.3L900.0 570.0L902.0 571.1L904.0 572.3L906.0 574.4L908.0 576.0L910.0 577.2L912.0 579.0L914.0 580.7L916.0 583.1L918.0 583.9L920.0 585.7L922.0 587.6L924.0 589.6L926.0 591.1L928.0 593.2L930.0 595.1L932.0 597.3L934.0 598.5L936.0 600.3L938.0 602.1L940.0 603.4L942.0 605.4L944.0 607.5L946.0 609.3L948.0 611.7L950.0 613.0L952.0 614.5L954.0 616.3L956.0 617.3L958.0 618.8L960.0 620.2L962.0 621.8L964.0 623.9L966.0 624.5L968.0 625.8L970.0 627.4L972.0 629.3L974.0 630.9L976.0 633.0L978.0 634.6L980.0 637.3L982.0 640.4L984.0 643.8L986.0 647.6L988.0 650.6L990.0 655.0L992.0 658.6L994.0 662.9L996.0 666.4L998.0 670.1L1000.0 674.6L1002.0 677.9L1004.0 680.5L1006.0 684.3L1008.0 686.5L1010.0 689.3L1012.0 691.6L1014.0 693.4L1016.0 696.3L1018.0 698.0L1020.0 700.9L1022.0 702.9L1024.0 705.4L1026.0 708.0L1028.0 711.2L1030.0 713.2L1032.0 716.2L1034.0 719.2L1036.0 722.9L1038.0 726.0L1040.0 728.9L1042.0 732.3L1044.0 735.0L1046.0 739.3L1048.0 742.2L1050.0 745.7L1052.0 749.0L1054.0 752.7L1056.0 755.8L1058.0 759.3L1060.0 762.7L1062.0 765.8L1064.0 769.1L1066.0 772.7L1068.0 775.8L1070.0 779.1L1072.0 782.3L1074.0 784.5L1076.0 787.2L1078.0 790.4L1080.0 793.8L1082.0 796.3L1084.0 798.9L1086.0 803.3L1088.0 806.6L1090.0 810.1L1092.0 814.6L1094.0 819.4L1096.0 823.8L1098.0 828.7L1100.0 833.5L1102.0 838.0L1104.0 842.8L1106.0 846.5L1108.0 850.8L1110.0 853.6L1112.0 856.6L1114.0 859.3L1116.0 862.5L1118.0 865.7L1120.0 868.8L1122.0 870.5L1124.0 874.7L1126.0 877.8L1128.0 881.7L1130.0 884.9L1132.0 888.8L1134.0 893.0L1136.0 896.3L1138.0 900.1L1140.0 904.4L1142.0 908.2L1144.0 912.0L1146.0 915.5L1148.0 919.9L1150.0 923.4L1152.0 927.7L1154.0 931.6L1156.0 935.1L1158.0 939.2L1160.0 941.8L1162.0 945.6L1164.0 948.9L1166.0 951.8L1168.0 955.5L1170.0 958.8L1172.0 962.0L1174.0 964.7L1176.0 968.0L1178.0 970.7L1180.0 974.3L1182.0 977.4L1184.0 979.9L1186.0 982.9L1188.0 985.5L1190.0 988.8L1192.0 991.7L1194.0 994.8L1196.0 997.4L1198.0 1001.4L1200.0 1004.0L1202.0 1007.4L1204.0 1010.4L1206.0 1013.3L1208.0 1017.3L1210.0 1020.3L1212.0 1022.9L1214.0 1026.8L1216.0 1030.2L1218.0 1033.5L1220.0 1038.0L1222.0 1040.5L1224.0 1044.9L1226.0 1047.6L1228.0 1052.1L1230.0 1055.2L1232.0 1058.3L1234.0 1062.7L1236.0 1066.4L1238.0 1069.6L1240.0 1073.8L1242.0 1076.6L1244.0 1081.0L1246.0 1084.4L1248.0 1088.3L1250.0 1091.1L1252.0 1094.9L1254.0 1097.9L1256.0 1101.6L1258.0 1104.8L1260.0 1108.2L1262.0 1110.9L1264.0 1114.6L1266.0 1117.7L1268.0 1121.2L1270.0 1123.8L1272.0 1126.9L1274.0 1130.2L1276.0 1133.2L1278.0 1135.2L1280.0 1138.9L1282.0 1142.2L1284.0 1144.7L1286.0 1147.1L1288.0 1150.5L1290.0 1153.4L1292.0 1155.9L1294.0 1159.1L1296.0 1161.5L1298.0 1164.5L1300.0 1167.4L1302.0 1170.6L1304.0 1172.9L1306.0 1175.9L1308.0 1178.3L1310.0 1180.5L1312.0 1183.2L1314.0 1186.5L1316.0 1188.4L1318.0 1191.1L1320.0 1194.4L1322.0 1196.6L1324.0 1199.1L1326.0 1202.5L1328.0 1204.3L1330.0 1207.2L1332.0 1209.5L1334.0 1212.0L1336.0 1214.4L1338.0 1217.0L1340.0 1219.5L1342.0 1221.0L1344.0 1224.0L1346.0 1225.6L1348.0 1227.7L1350.0 1230.0L1352.0 1231.5L1354.0 1233.3L1356.0 1235.8L1358.0 1236.9L1360.0 1238.1L1362.0 1239.2L1364.0 1241.8L1366.0 1243.0L1368.0 1244.8L1370.0 1245.1L1372.0 1246.1L1374.0 1247.4L1376.0 1248.8L1378.0 1249.7L1380.0 1250.3L1382.0 1251.1L1384.0 1252.4L1386.0 1254.1L1388.0 1255.0L1390.0 1256.5L1392.0 1258.6L1394.0 1260.6L1396.0 1262.9L1398.0 1266.2L1400.0 1268.9L1402.0 1272.2L1404.0 1275.7L1406.0 1279.4L1408.0 1283.1L1410.0 1286.3L1412.0 1288.9L1414.0 1291.7L1416.0 1294.3L1418.0 1296.5L1420.0 1299.4L1422.0 1300.8L1424.0 1303.1L1426.0 1305.1L1428.0 1306.2L1430.0 1307.8L1432.0 1309.4L1434.0 1311.0L1436.0 1312.2L1438.0 1313.4L1440.0 1315.0L1442.0 1315.6L1444.0 1316.7L1446.0 1318.2L1448.0 1319.2L1450.0 1320.6L1452.0 1321.8L1454.0 1322.4L1456.0 1323.4L1458.0 1325.5L1460.0 1326.7L1462.0 1328.3L1464.0 1329.4L1466.0 1331.5L1468.0 1332.8L1470.0 1334.6L1472.0 1336.4L1474.0 1337.8L1476.0 1339.4L1478.0 1340.8L1480.0 1343.4L1482.0 1343.8L1484.0 1346.0L1486.0 1346.8L1488.0 1348.5L1490.0 1350.5L1492.0 1351.2L1494.0 1353.0L1496.0 1353.7L1498.0 1355.1L1500.0 1355.4L1502.0 1356.5L1504.0 1358.1L1506.0 1358.6L1508.0 1359.0L1510.0 1359.9L1512.0 1359.9L1514.0 1361.4L1516.0 1361.9L1518.0 1362.8L1520.0 1364.5L1522.0 1365.0L1524.0 1366.1L1526.0 1367.4L1528.0 1369.5L1530.0 1371.2L1532.0 1372.6L1534.0 1374.3L1536.0 1376.8L1538.0 1378.9L1540.0 1380.3L1542.0 1383.3L1544.0 1384.7L1546.0 1386.9L1548.0 1388.4L1550.0 1390.1L1552.0 1392.1L1554.0 1393.1L1556.0 1393.7L1558.0 1395.0L1560.0 1395.7L1562.0 1395.6L1564.0 1396.0L1566.0 1395.3L1568.0 1395.6L1570.0 1395.1L1572.0 1394.7L1574.0 1394.7L1576.0 1394.3L1578.0 1393.9L1580.0 1394.1L1582.0 1393.8L1584.0 1394.3L1586.0 1394.7L1588.0 1395.0L1590.0 1394.8L1592.0 1395.4L1594.0 1396.1L1596.0 1396.6L1598.0 1396.8L1600.0 1397.8L1602.0 1398.5L1604.0 1399.6L1606.0 1399.9L1608.0 1400.6L1610.0 1401.1L1612.0 1401.9L1614.0 1403.4L1616.0 1404.1L1618.0 1404.8L1620.0 1406.1L1622.0 1406.8L1624.0 1407.6L1626.0 1408.7L1628.0 1409.2L1630.0 1410.4L1632.0 1411.1L1634.0 1411.7L1636.0 1412.5L1638.0 1413.1L1640.0 1414.3L1642.0 1414.6L1644.0 1415.0L1646.0 1416.0L1648.0 1416.5L1650.0 1416.8L1652.0 1417.2L1654.0 1417.4L1656.0 1417.6L1658.0 1418.3L1660.0 1417.9L1662.0 1417.9L1664.0 1418.1L1666.0 1418.9L1668.0 1418.4L1670.0 1418.7L1672.0 1418.6L1674.0 1418.5L1676.0 1418.8L1678.0 1418.9L1680.0 1419.5L1682.0 1418.9L1684.0 1419.1L1686.0 1419.7L1688.0 1419.6L1690.0 1419.5L1692.0 1419.8L1694.0 1419.7L1696.0 1420.1L1698.0 1420.2L1700.0 1420.2L1702.0 1421.3L1704.0 1421.2L1706.0 1421.9L1708.0 1422.2L1710.0 1422.7L1712.0 1423.5L1714.0 1424.1L1716.0 1426.6L1718.0 1427.3L1720.0 1429.0L1722.0 1430.6L1724.0 1431.3L1726.0 1432.5L1728.0 1433.5L1730.0 1433.7L1732.0 1434.1L1734.0 1433.1L1736.0 1433.9L1738.0 1433.6L1740.0 1432.5L1742.0 1432.6L1744.0 1431.7L1746.0 1431.1L1748.0 1430.8L1750.0 1429.6L1752.0 1429.9L1754.0 1429.0L1756.0 1429.3L1758.0 1429.0L1760.0 1429.2L1762.0 1429.1L1764.0 1429.7L1766.0 1429.9L1768.0 1430.6L1770.0 1431.1L1772.0 1432.2L1774.0 1432.7L1776.0 1434.5L1778.0 1434.4L1780.0 1434.9L1782.0 1436.7L1784.0 1437.0L1786.0 1438.0L1788.0 1438.6L1790.0 1439.0L1792.0 1439.6L1794.0 1439.9L1796.0 1440.9L1798.0 1441.0L1800.0 1440.5L1802.0 1441.3L1804.0 1441.2L1806.0 1440.5L1808.0 1440.7L1810.0 1440.9L1812.0 1440.7L1814.0 1441.1L1816.0 1440.2L1818.0 1440.3L1820.0 1439.6L1822.0 1439.5L1824.0 1439.4L1826.0 1439.1L1828.0 1439.1L1830.0 1438.9L1832.0 1438.2L1834.0 1438.8L1836.0 1438.2L1838.0 1438.7L1840.0 1438.6L1842.0 1438.6L1844.0 1438.2L1846.0 1438.5L1848.0 1438.7L1850.0 1438.3L1852.0 1438.1L1854.0 1439.1L1856.0 1438.6L1858.0 1438.7L1860.0 1438.6L1862.0 1438.7L1864.0 1438.4L1866.0 1439.0L1868.0 1439.2L1870.0 1439.4L1872.0 1440.4L1874.0 1440.0L1876.0 1440.1L1878.0 1440.5L1880.0 1440.4L1882.0 1441.3L1884.0 1441.5L1886.0 1441.1L1888.0 1441.8L1890.0 1442.0L1892.0 1442.8L1894.0 1442.6L1896.0 1442.1L1898.0 1442.6L1900.0 1443.2L1902.0 1443.4L1904.0 1443.8L1906.0 1443.6L1908.0 1444.0L1910.0 1444.6L1912.0 1444.5L1914.0 1444.6L1916.0 1445.5L1918.0 1445.0L1920.0 1445.3L1922.0 1445.2L1924.0 1445.7L1926.0 1445.3L1928.0 1446.5L1930.0 1445.5L1932.0 1446.6L1934.0 1446.3L1936.0 1446.8L1938.0 1447.3L1940.0 1447.0L1942.0 1447.3L1944.0 1447.0L1946.0 1447.3L1948.0 1447.8L1950.0 1447.3L1952.0 1447.9L1954.0 1447.8L1956.0 1447.6L1958.0 1448.1L1960.0 1447.6L1962.0 1448.0L1964.0 1447.5L1966.0 1447.8L1968.0 1447.5L1970.0 1447.9L1972.0 1448.0L1974.0 1448.0L1976.0 1447.7L1978.0 1447.6L1980.0 1447.3L1982.0 1447.2L1984.0 1446.8L1986.0 1447.6L1988.0 1446.8L1990.0 1446.5L1992.0 1446.4L1994.0 1445.9L1996.0 1446.4L1998.0 1445.5L2000.0 1445.0L2002.0 1445.5L2004.0 1445.0L2006.0 1444.5L2008.0 1443.8L2010.0 1443.9L2012.0 1443.1L2014.0 1442.7L2016.0 1442.5L2018.0 1441.7L2020.0 1441.0L2022.0 1439.9L2024.0 1440.3L2026.0 1438.7L2028.0 1438.5L2030.0 1437.8" stroke="#FF6400" stroke-width="11.5" fill="none" stroke-linecap="round" stroke-linejoin="round" stroke-dasharray="42.4 61.2 43.0 57.2 38.6 59.6 37.5 54.7 41.5 53.0 37.2 60.4 40.3 62.9 40.1 57.9 38.5 51.0 37.7 40.9 34.8 52.2 43.2 57.8 41.0 58.4 44.5 52.5 41.1 52.2 38.6 58.4 40.8 48.9 38.1 36.1 39.7 49.5 30.1 36.0 15.3 39.0 32.0 47.3 34.5 46.8 28.7 45.0 37.9 36.4 25.7 35.7 34.6 39.0 32.8 47.3 35.5 40.6 31.2 20000.0" stroke-dashoffset="22528.4"/>
<path d="M326.0 1289.2L328.0 1289.4L330.0 1289.1L332.0 1288.3L334.0 1288.1L336.0 1287.6L338.0 1287.5L340.0 1286.9L342.0 1286.6L344.0 1285.2L346.0 1285.6L348.0 1284.5L350.0 1284.0L352.0 1283.0L354.0 1282.1L356.0 1281.4L358.0 1280.6L360.0 1279.3L362.0 1278.3L364.0 1277.5L366.0 1275.9L368.0 1274.5L370.0 1273.8L372.0 1272.2L374.0 1270.5L376.0 1269.4L378.0 1268.1L380.0 1266.4L382.0 1264.8L384.0 1263.6L386.0 1262.2L388.0 1260.2L390.0 1258.3L392.0 1256.8L394.0 1255.0L396.0 1252.8L398.0 1251.1L400.0 1249.2L402.0 1246.7L404.0 1244.4L406.0 1242.6L408.0 1240.3L410.0 1238.3L412.0 1235.2L414.0 1233.0L416.0 1230.5L418.0 1227.7L420.0 1225.7L422.0 1223.2L424.0 1220.1L426.0 1218.0L428.0 1215.1L430.0 1212.2L432.0 1209.2L434.0 1206.4L436.0 1202.8L438.0 1200.3L440.0 1197.2L442.0 1193.3L444.0 1190.7L446.0 1187.2L448.0 1184.2L450.0 1180.4L452.0 1177.1L454.0 1173.7L456.0 1169.8L458.0 1166.6L460.0 1162.7L462.0 1159.2L464.0 1155.1L466.0 1151.7L468.0 1147.7L470.0 1143.5L472.0 1139.7L474.0 1135.8L476.0 1131.9L478.0 1126.7L480.0 1123.2L482.0 1118.8L484.0 1114.4L486.0 1109.8L488.0 1106.1L490.0 1100.9L492.0 1097.0L494.0 1092.7L496.0 1087.4L498.0 1083.2L500.0 1078.3L502.0 1074.2L504.0 1069.9L506.0 1065.4L508.0 1059.6L510.0 1055.2L512.0 1050.9L514.0 1046.4L516.0 1041.3L518.0 1036.2L520.0 1031.7L522.0 1026.8L524.0 1022.0L526.0 1017.0L528.0 1012.5L530.0 1007.6L532.0 1002.7L534.0 997.8L536.0 992.6L538.0 988.0L540.0 983.7L542.0 978.5L544.0 973.3L546.0 969.3L548.0 964.2L550.0 959.9L552.0 954.4L554.0 949.4L556.0 944.3L558.0 940.3L560.0 935.8L562.0 929.9L564.0 925.1L566.0 920.6L568.0 915.2L570.0 910.4L572.0 905.4L574.0 900.6L576.0 895.8L578.0 890.4L580.0 885.5L582.0 880.0L584.0 875.1L586.0 869.2L588.0 864.2L590.0 859.8L592.0 854.3L594.0 849.5L596.0 844.5L598.0 839.8L600.0 834.7L602.0 829.9L604.0 824.9L606.0 820.0L608.0 815.5L610.0 811.1L612.0 806.6L614.0 802.7L616.0 798.8L618.0 795.0L620.0 791.0L622.0 786.7L624.0 783.4L626.0 779.6L628.0 775.7L630.0 771.3L632.0 766.4L634.0 761.5L636.0 757.2L638.0 751.6L640.0 746.4L642.0 741.0L644.0 734.6L646.0 729.6L648.0 724.3L650.0 719.3L652.0 714.5L654.0 710.0L656.0 705.9L658.0 701.5L660.0 698.3L662.0 694.7L664.0 691.6L666.0 688.2L668.0 685.3L670.0 682.1L672.0 678.6L674.0 675.1L676.0 671.4L678.0 667.6L680.0 663.8L682.0 659.9L684.0 656.3L686.0 652.3L688.0 648.5L690.0 644.1L692.0 641.0L694.0 636.8L696.0 633.3L698.0 630.0L700.0 626.6L702.0 623.7L704.0 620.4L706.0 617.3L708.0 614.6L710.0 612.4L712.0 609.3L714.0 606.3L716.0 604.0L718.0 600.8L720.0 599.1L722.0 595.4L724.0 593.3L726.0 590.4L728.0 586.9L730.0 584.5L732.0 581.7L734.0 578.5L736.0 575.3L738.0 572.4L740.0 569.0L742.0 565.8L744.0 562.5L746.0 559.5L748.0 555.9L750.0 553.3L752.0 549.7L754.0 546.4L756.0 543.8L758.0 541.2L760.0 537.9L762.0 534.5L764.0 531.9L766.0 528.7L768.0 526.0L770.0 523.2L772.0 519.8L774.0 517.8L776.0 514.8L778.0 512.4L780.0 509.6L782.0 507.2L784.0 505.0L786.0 503.2L788.0 501.2L790.0 498.6L792.0 496.9L794.0 494.5L796.0 492.1L798.0 490.9L800.0 489.2L802.0 487.4L804.0 486.1L806.0 484.7L808.0 482.9L810.0 481.5L812.0 480.8L814.0 479.8L816.0 478.8L818.0 478.4L820.0 477.8L822.0 476.4L824.0 476.1L826.0 475.6L828.0 474.9L830.0 474.4L832.0 473.4L834.0 473.2L836.0 473.1L838.0 472.1L840.0 471.1L842.0 470.8L844.0 470.4L846.0 469.4L848.0 468.3L850.0 468.2L852.0 466.5L854.0 466.1L856.0 465.1L858.0 463.9L860.0 463.8L862.0 462.7L864.0 461.5L866.0 461.3L868.0 460.3L870.0 459.3L872.0 459.2L874.0 459.1L876.0 458.9L878.0 458.6L880.0 458.5L882.0 458.6L884.0 458.5L886.0 459.2L888.0 459.2L890.0 459.6L892.0 460.1L894.0 460.2L896.0 460.9L898.0 462.2L900.0 462.6L902.0 463.2L904.0 464.2L906.0 464.9L908.0 466.0L910.0 466.7L912.0 467.9L914.0 468.4L916.0 470.3L918.0 470.8L920.0 471.5L922.0 473.0L924.0 474.0L926.0 475.3L928.0 475.9L930.0 477.4L932.0 479.4L934.0 479.0L936.0 480.5L938.0 481.2L940.0 482.3L942.0 482.6L944.0 483.6L946.0 484.9L948.0 485.5L950.0 486.7L952.0 486.7L954.0 487.6L956.0 489.2L958.0 488.8L960.0 489.6L962.0 490.7L964.0 491.6L966.0 492.9L968.0 493.8L970.0 494.8L972.0 496.5L974.0 498.8L976.0 500.1L978.0 500.8L980.0 503.7L982.0 505.7L984.0 508.7L986.0 511.2L988.0 514.8L990.0 517.5L992.0 520.6L994.0 523.5L996.0 526.6L998.0 529.8L1000.0 533.1L1002.0 535.8L1004.0 538.2L1006.0 541.2L1008.0 543.2L1010.0 545.3L1012.0 547.0L1014.0 548.9L1016.0 550.7L1018.0 551.8L1020.0 554.6L1022.0 556.2L1024.0 557.7L1026.0 559.8L1028.0 561.6L1030.0 563.6L1032.0 564.9L1034.0 568.0L1036.0 570.8L1038.0 574.0L1040.0 577.2L1042.0 580.5L1044.0 583.2L1046.0 586.6L1048.0 591.3L1050.0 595.0L1052.0 599.2L1054.0 602.9L1056.0 606.9L1058.0 610.2L1060.0 614.4L1062.0 617.7L1064.0 621.3L1066.0 624.5L1068.0 627.3L1070.0 630.3L1072.0 633.0L1074.0 635.9L1076.0 638.4L1078.0 640.6L1080.0 643.2L1082.0 646.4L1084.0 648.4L1086.0 651.3L1088.0 653.8L1090.0 656.3L1092.0 659.2L1094.0 662.5L1096.0 665.7L1098.0 669.3L1100.0 672.3L1102.0 676.4L1104.0 680.7L1106.0 685.6L1108.0 689.1L1110.0 695.0L1112.0 700.0L1114.0 705.7L1116.0 711.0L1118.0 716.8L1120.0 722.5L1122.0 727.3L1124.0 732.1L1126.0 736.7L1128.0 740.7L1130.0 745.3L1132.0 749.0L1134.0 752.6L1136.0 756.5L1138.0 760.0L1140.0 763.7L1142.0 766.8L1144.0 769.8L1146.0 773.6L1148.0 776.6L1150.0 779.9L1152.0 782.8L1154.0 785.8L1156.0 788.9L1158.0 792.2L1160.0 795.9L1162.0 799.1L1164.0 802.2L1166.0 806.4L1168.0 809.9L1170.0 814.3L1172.0 818.1L1174.0 822.3L1176.0 827.0L1178.0 831.4L1180.0 835.4L1182.0 840.6L1184.0 845.6L1186.0 849.1L1188.0 854.7L1190.0 858.6L1192.0 863.3L1194.0 868.0L1196.0 872.1L1198.0 877.5L1200.0 881.7L1202.0 885.7L1204.0 890.1L1206.0 894.0L1208.0 898.4L1210.0 902.9L1212.0 906.1L1214.0 910.5L1216.0 914.6L1218.0 918.7L1220.0 922.7L1222.0 925.9L1224.0 929.7L1226.0 933.9L1228.0 937.5L1230.0 941.3L1232.0 945.6L1234.0 949.7L1236.0 953.2L1238.0 957.0L1240.0 961.2L1242.0 964.6L1244.0 969.3L1246.0 973.2L1248.0 978.5L1250.0 982.2L1252.0 986.3L1254.0 990.5L1256.0 994.1L1258.0 999.2L1260.0 1003.6L1262.0 1007.0L1264.0 1011.3L1266.0 1015.2L1268.0 1018.2L1270.0 1022.5L1272.0 1026.0L1274.0 1028.9L1276.0 1031.8L1278.0 1034.8L1280.0 1036.8L1282.0 1039.8L1284.0 1042.5L1286.0 1044.2L1288.0 1047.1L1290.0 1049.0L1292.0 1050.9L1294.0 1053.9L1296.0 1056.1L1298.0 1059.1L1300.0 1061.4L1302.0 1065.0L1304.0 1067.7L1306.0 1071.4L1308.0 1074.8L1310.0 1078.9L1312.0 1083.5L1314.0 1087.5L1316.0 1091.7L1318.0 1095.7L1320.0 1100.6L1322.0 1104.6L1324.0 1108.3L1326.0 1112.3L1328.0 1115.7L1330.0 1119.4L1332.0 1123.0L1334.0 1126.8L1336.0 1130.2L1338.0 1133.2L1340.0 1136.8L1342.0 1139.9L1344.0 1142.8L1346.0 1146.0L1348.0 1148.4L1350.0 1151.3L1352.0 1154.2L1354.0 1156.6L1356.0 1159.4L1358.0 1161.3L1360.0 1164.5L1362.0 1166.2L1364.0 1168.7L1366.0 1170.5L1368.0 1173.3L1370.0 1175.6L1372.0 1177.7L1374.0 1179.6L1376.0 1180.9L1378.0 1183.1L1380.0 1185.2L1382.0 1187.0L1384.0 1189.5L1386.0 1191.1L1388.0 1192.9L1390.0 1194.9L1392.0 1196.3L1394.0 1198.2L1396.0 1200.1L1398.0 1202.3L1400.0 1204.2L1402.0 1206.1L1404.0 1208.2L1406.0 1209.4L1408.0 1211.5L1410.0 1213.7L1412.0 1215.2L1414.0 1217.5L1416.0 1220.0L1418.0 1222.1L1420.0 1224.2L1422.0 1226.0L1424.0 1228.1L1426.0 1230.7L1428.0 1232.5L1430.0 1235.0L1432.0 1237.7L1434.0 1239.6L1436.0 1241.9L1438.0 1244.5L1440.0 1247.2L1442.0 1249.6L1444.0 1251.9L1446.0 1254.4L1448.0 1256.0L1450.0 1258.4L1452.0 1260.9L1454.0 1262.6L1456.0 1264.6L1458.0 1266.6L1460.0 1268.6L1462.0 1270.6L1464.0 1272.2L1466.0 1274.3L1468.0 1276.5L1470.0 1277.6L1472.0 1279.7L1474.0 1281.0L1476.0 1282.1L1478.0 1283.9L1480.0 1285.2L1482.0 1287.2L1484.0 1288.1L1486.0 1290.2L1488.0 1291.4L1490.0 1292.0L1492.0 1294.3L1494.0 1295.9L1496.0 1296.5L1498.0 1298.4L1500.0 1298.9L1502.0 1300.9L1504.0 1301.7L1506.0 1303.7L1508.0 1304.4L1510.0 1305.5L1512.0 1307.8L1514.0 1309.7L1516.0 1310.3L1518.0 1312.1L1520.0 1313.3L1522.0 1314.6L1524.0 1316.3L1526.0 1318.0L1528.0 1318.6L1530.0 1320.6L1532.0 1321.9L1534.0 1322.8L1536.0 1325.1L1538.0 1326.6L1540.0 1327.2L1542.0 1329.4L1544.0 1330.2L1546.0 1331.6L1548.0 1333.4L1550.0 1334.4L1552.0 1335.8L1554.0 1337.4L1556.0 1338.7L1558.0 1339.9L1560.0 1340.4L1562.0 1341.6L1564.0 1343.7L1566.0 1344.3L1568.0 1345.8L1570.0 1346.6L1572.0 1348.0L1574.0 1348.8L1576.0 1350.7L1578.0 1351.0L1580.0 1352.3L1582.0 1353.2L1584.0 1354.6L1586.0 1354.8L1588.0 1356.1L1590.0 1356.9L1592.0 1358.0L1594.0 1358.8L1596.0 1359.3L1598.0 1360.3L1600.0 1360.9L1602.0 1361.9L1604.0 1362.4L1606.0 1363.0L1608.0 1363.8L1610.0 1364.6L1612.0 1365.9L1614.0 1365.7L1616.0 1366.5L1618.0 1367.5L1620.0 1367.1L1622.0 1367.8L1624.0 1368.5L1626.0 1369.4L1628.0 1370.8L1630.0 1370.8L1632.0 1371.6L1634.0 1371.7L1636.0 1371.7L1638.0 1372.3L1640.0 1373.9L1642.0 1374.2L1644.0 1374.3L1646.0 1375.7L1648.0 1375.5L1650.0 1376.9L1652.0 1377.6L1654.0 1377.6L1656.0 1378.1L1658.0 1379.3L1660.0 1379.4L1662.0 1380.6L1664.0 1380.7L1666.0 1381.9L1668.0 1382.4L1670.0 1382.9L1672.0 1383.4L1674.0 1384.5L1676.0 1384.5L1678.0 1385.7L1680.0 1386.3L1682.0 1387.4L1684.0 1387.5L1686.0 1389.1L1688.0 1389.2L1690.0 1389.6L1692.0 1391.1L1694.0 1391.9L1696.0 1392.1L1698.0 1392.6L1700.0 1393.6L1702.0 1394.1L1704.0 1395.0L1706.0 1396.3L1708.0 1396.7L1710.0 1397.3L1712.0 1398.1L1714.0 1398.7L1716.0 1399.8L1718.0 1400.5L1720.0 1400.9L1722.0 1401.8L1724.0 1403.2L1726.0 1403.4L1728.0 1403.9L1730.0 1405.3L1732.0 1405.5L1734.0 1405.9L1736.0 1407.2L1738.0 1407.4L1740.0 1408.3L1742.0 1409.3L1744.0 1409.9L1746.0 1410.5L1748.0 1411.3L1750.0 1412.0L1752.0 1413.2L1754.0 1413.4L1756.0 1414.2L1758.0 1415.7L1760.0 1415.6L1762.0 1417.0L1764.0 1417.7L1766.0 1417.9L1768.0 1418.3L1770.0 1419.5L1772.0 1420.3L1774.0 1421.1L1776.0 1421.5L1778.0 1422.6L1780.0 1423.3L1782.0 1423.3L1784.0 1424.7L1786.0 1425.0L1788.0 1425.4L1790.0 1426.2L1792.0 1427.5L1794.0 1427.9L1796.0 1427.7L1798.0 1428.9L1800.0 1429.5L1802.0 1430.1L1804.0 1430.6L1806.0 1431.0L1808.0 1432.3L1810.0 1432.3L1812.0 1433.0L1814.0 1433.4L1816.0 1433.8L1818.0 1434.6L1820.0 1434.8L1822.0 1434.7L1824.0 1434.8L1826.0 1435.0L1828.0 1435.4L1830.0 1435.0L1832.0 1434.8L1834.0 1434.3L1836.0 1433.8L1838.0 1433.3L1840.0 1431.9L1842.0 1432.0L1844.0 1430.4L1846.0 1429.6L1848.0 1429.5L1850.0 1428.7L1852.0 1428.5L1854.0 1428.5L1856.0 1428.7L1858.0 1430.0L1860.0 1431.2L1862.0 1431.7L1864.0 1433.7L1866.0 1434.3L1868.0 1435.9L1870.0 1437.7L1872.0 1439.1L1874.0 1440.8L1876.0 1441.7L1878.0 1442.9L1880.0 1443.8L1882.0 1445.0L1884.0 1445.8L1886.0 1446.2L1888.0 1447.0L1890.0 1446.6L1892.0 1445.9L1894.0 1446.5L1896.0 1444.6L1898.0 1443.3L1900.0 1442.7L1902.0 1441.2L1904.0 1438.9L1906.0 1437.2L1908.0 1435.6L1910.0 1434.6L1912.0 1432.8L1914.0 1431.5L1916.0 1430.9L1918.0 1431.0L1920.0 1430.4L1922.0 1431.6L1924.0 1432.7L1926.0 1435.6L1928.0 1437.8L1930.0 1440.0L1932.0 1442.4L1934.0 1445.3L1936.0 1447.2L1938.0 1450.5L1940.0 1452.3L1942.0 1454.2L1944.0 1455.9L1946.0 1457.0L1948.0 1457.8L1950.0 1458.0L1952.0 1457.8L1954.0 1457.2L1956.0 1457.5L1958.0 1457.0L1960.0 1457.2L1962.0 1456.4L1964.0 1455.8L1966.0 1456.4L1968.0 1457.2L1970.0 1456.6L1972.0 1456.4L1974.0 1456.8L1976.0 1456.7L1978.0 1456.7L1980.0 1456.4L1982.0 1456.6L1984.0 1456.7L1986.0 1456.4L1988.0 1456.3L1990.0 1456.6L1992.0 1456.8L1994.0 1456.6L1996.0 1456.4L1998.0 1456.2L2000.0 1456.6L2002.0 1455.7L2004.0 1455.6L2006.0 1455.5L2008.0 1454.4L2010.0 1454.0L2012.0 1453.6L2014.0 1453.2L2016.0 1452.0L2018.0 1451.2L2020.0 1450.2L2022.0 1448.8L2024.0 1448.3L2026.0 1446.7L2028.0 1444.9L2030.0 1444.0" stroke="#6699CC" stroke-width="11.5" fill="none" stroke-linecap="round" stroke-linejoin="round" stroke-dasharray="35.2 62.4 43.3 60.1 37.5 57.7 37.8 56.3 42.3 52.9 34.8 60.1 36.5 59.6 37.2 59.2 41.2 55.8 41.6 48.8 32.2 38.8 38.8 38.3 39.2 46.9 42.3 54.0 37.4 43.8 35.6 57.2 38.7 51.2 36.0 53.2 40.4 49.5 37.2 41.7 41.5 42.5 21.9 35.5 23.2 42.5 37.8 50.2 28.3 50.7 41.7 36.4 30.6 36.6 25.9 79.8 23.6 28.9 17.6 38.7 31.7 39.4 21.1 20000.0" stroke-dashoffset="22633.2"/>
</g>
<line x1="1318.5" y1="244.6" x2="902.4" y2="308.9" stroke="#000" stroke-width="5.4"/><path d="M867.8 314.2L902.9 298.9L905.9 318.2Z" fill="#000"/>
<line x1="1318.5" y1="240.3" x2="910.6" y2="544.1" stroke="#000" stroke-width="5.6"/><path d="M882.5 565.0L906.3 535.0L918.0 550.8Z" fill="#000"/>
<rect x="1313.5" y="238" width="5" height="8.5" fill="#000"/>
<line x1="1340.0" y1="513.3" x2="853.7" y2="233.6" stroke="#000" stroke-width="5.6"/><path d="M823.4 216.1L860.4 226.1L850.6 243.0Z" fill="#000"/>
<line x1="1331.5" y1="512.2" x2="736.6" y2="1410.4" stroke="#000" stroke-width="5.6"/><path d="M717.3 1439.6L729.6 1403.3L745.9 1414.2Z" fill="#000"/>
<text transform="translate(261.81 1499.75) scale(0.9316 1.0000)" font-size="88">0</text>
<text transform="translate(223.34 1264.85) scale(0.9078 1.0000)" font-size="88">10</text>
<text transform="translate(218.12 1029.85) scale(0.9691 1.0000)" font-size="88">20</text>
<text transform="translate(219.80 796.10) scale(0.9494 1.0000)" font-size="88">30</text>
<text transform="translate(220.62 561.50) scale(0.9398 1.0000)" font-size="88">40</text>
<text transform="translate(219.86 327.00) scale(0.9488 1.0000)" font-size="88">50</text>
<text transform="translate(219.17 92.00) scale(0.9568 1.0000)" font-size="88">60</text>
<text transform="translate(433.55 1569.65) scale(0.9490 1.0000)" font-size="88">0.2</text>
<text transform="translate(818.45 1569.70) scale(0.9151 1.0000)" font-size="88">0.4</text>
<text transform="translate(1204.22 1569.95) scale(0.9260 1.0000)" font-size="88">0.6</text>
<text transform="translate(1589.15 1569.95) scale(0.9154 1.0000)" font-size="88">0.8</text>
<text transform="translate(1976.13 1570.00) scale(0.9091 1.0000)" font-size="88">1.0</text>
<text transform="translate(1764.70 156.55) scale(0.9122 1.0000)" font-size="88">180&#176;C</text>
<text transform="translate(1757.63 266.40) scale(0.9211 1.0000)" font-size="88">120&#176;C</text>
<text transform="translate(1757.64 370.35) scale(0.9197 1.0000)" font-size="88">113&#176;C</text>
<text transform="translate(1757.64 473.30) scale(0.9202 1.0000)" font-size="88">111&#176;C</text>
<text transform="translate(1757.64 577.40) scale(0.9202 1.0000)" font-size="88">105&#176;C</text>
<text transform="translate(1755.00 680.80) scale(0.9328 1.0000)" font-size="88">95&#176;C</text>
<text transform="translate(1757.04 784.35) scale(0.9213 1.0000)" font-size="88">85&#176;C</text>
<text transform="translate(1757.04 888.45) scale(0.9213 1.0000)" font-size="88">80&#176;C</text>
<text transform="translate(1752.32 992.15) scale(0.9462 1.0000)" font-size="88">75&#176;C</text>
<text transform="translate(1753.75 1095.50) scale(0.9382 1.0000)" font-size="88">65&#176;C</text>
<text transform="translate(1753.93 1199.65) scale(0.9371 1.0000)" font-size="88">40&#176;C</text>
<text transform="translate(393.78 182.90) scale(0.9558 1.0000)" font-size="88">(b)</text>
<text transform="translate(516.32 178.90) scale(0.9265 1.0000)" font-size="88">PPR/PP-b-PE(50/50)</text>
<text transform="translate(1332.12 262.00) scale(0.9615 0.9828)" font-size="88">II</text>
<text transform="translate(1379.87 541.70) scale(1.0435 0.9776)" font-size="88">I</text>
<text transform="translate(957.61 1623.35) scale(0.9299 1.0000)" font-size="88">q/nm</text>
<text transform="translate(1124.89 1578.60) scale(0.8526 1.0000)" font-size="52">-1</text>
<text transform="translate(121.32 864.97) rotate(-90) scale(0.9912 0.9675)" font-size="88">I*q</text>
<text transform="translate(77.00 749.88) rotate(-90) scale(1.0381 0.9771)" font-size="52">2</text>
<line x1="1552.5" y1="128.4" x2="1735.5" y2="128.4" stroke="#505050" stroke-width="11" stroke-linecap="round"/>
<line x1="1552.5" y1="239.0" x2="1735.5" y2="239.0" stroke="#EE3E42" stroke-width="11" stroke-linecap="round"/>
<line x1="1552.5" y1="342.5" x2="1735.5" y2="342.5" stroke="#1A6CDD" stroke-width="11" stroke-linecap="round"/>
<line x1="1552.5" y1="445.9" x2="1735.5" y2="445.9" stroke="#38AC6B" stroke-width="11" stroke-linecap="round"/>
<line x1="1552.5" y1="549.3" x2="1735.5" y2="549.3" stroke="#AE78DC" stroke-width="11" stroke-linecap="round"/>
<line x1="1552.5" y1="652.7" x2="1735.5" y2="652.7" stroke="#C99600" stroke-width="11" stroke-linecap="round"/>
<path d="M1551.5 756.9H1589.7M1637 756.9H1675" stroke="#00C8C8" stroke-width="10" stroke-linecap="round"/>
<path d="M1551.5 860.5H1589.7M1637 860.5H1675" stroke="#7B4E4E" stroke-width="10" stroke-linecap="round"/>
<path d="M1551.5 964.1H1589.7M1637 964.1H1675" stroke="#8F8C00" stroke-width="10" stroke-linecap="round"/>
<path d="M1551.5 1067.7H1589.7M1637 1067.7H1675" stroke="#FF6400" stroke-width="10" stroke-linecap="round"/>
<path d="M1551.5 1171.2H1589.7M1637 1171.2H1675" stroke="#6699CC" stroke-width="10" stroke-linecap="round"/>
</svg></body></html>
